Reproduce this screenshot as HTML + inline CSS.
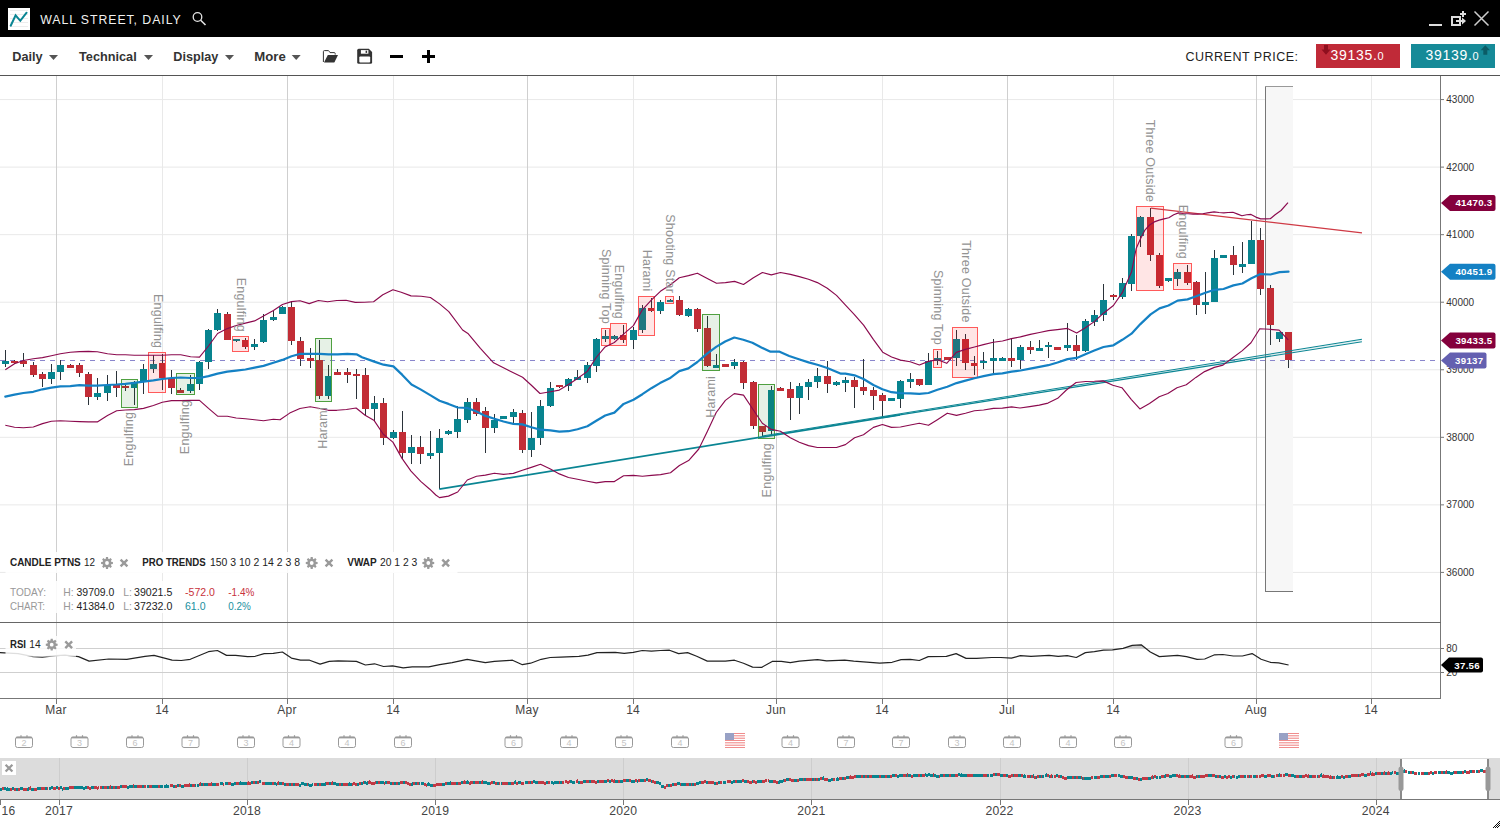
<!DOCTYPE html>
<html><head><meta charset="utf-8"><title>Wall Street Daily</title>
<style>html,body{margin:0;padding:0;background:#fff}body{width:1500px;height:828px;overflow:hidden;position:relative;font-family:"Liberation Sans",sans-serif}svg{position:absolute;left:0;top:0;display:block}text{font-family:"Liberation Sans",sans-serif}</style></head><body>
<svg width="1500" height="828" viewBox="0 0 1500 828">
<rect width="1500" height="828" fill="#fff"/>
<g shape-rendering="crispEdges">
<rect x="0" y="571.91" width="1440" height="1" fill="#e9e9e9" shape-rendering="auto"/>
<rect x="0" y="504.36" width="1440" height="1" fill="#e9e9e9" shape-rendering="auto"/>
<rect x="0" y="436.81" width="1440" height="1" fill="#e9e9e9" shape-rendering="auto"/>
<rect x="0" y="369.26" width="1440" height="1" fill="#e9e9e9" shape-rendering="auto"/>
<rect x="0" y="301.71" width="1440" height="1" fill="#e9e9e9" shape-rendering="auto"/>
<rect x="0" y="234.16" width="1440" height="1" fill="#e9e9e9" shape-rendering="auto"/>
<rect x="0" y="166.61" width="1440" height="1" fill="#e9e9e9" shape-rendering="auto"/>
<rect x="0" y="99.06" width="1440" height="1" fill="#e9e9e9" shape-rendering="auto"/>
<rect x="56" y="76" width="1" height="622" fill="#cfcfcf"/>
<rect x="162" y="76" width="1" height="622" fill="#e9e9e9"/>
<rect x="287" y="76" width="1" height="622" fill="#cfcfcf"/>
<rect x="393" y="76" width="1" height="622" fill="#e9e9e9"/>
<rect x="527" y="76" width="1" height="622" fill="#cfcfcf"/>
<rect x="633" y="76" width="1" height="622" fill="#e9e9e9"/>
<rect x="776" y="76" width="1" height="622" fill="#cfcfcf"/>
<rect x="882" y="76" width="1" height="622" fill="#e9e9e9"/>
<rect x="1007" y="76" width="1" height="622" fill="#cfcfcf"/>
<rect x="1113" y="76" width="1" height="622" fill="#e9e9e9"/>
<rect x="1256" y="76" width="1" height="622" fill="#cfcfcf"/>
<rect x="1371" y="76" width="1" height="622" fill="#e9e9e9"/>
</g>
<g shape-rendering="crispEdges">
<rect x="1266" y="86" width="27" height="505" fill="#f7f7f7"/>
<rect x="1265" y="86" width="1" height="506" fill="#777"/>
<rect x="1265" y="86" width="28" height="1" fill="#999"/>
<rect x="1265" y="591" width="28" height="1" fill="#777"/>
</g>
<line x1="0" y1="360.5" x2="1440" y2="360.5" stroke="#8a86cc" stroke-width="1" stroke-dasharray="5 5" shape-rendering="crispEdges"/>
<g shape-rendering="crispEdges">
<rect x="5" y="350" width="1" height="17" fill="#2b333a"/>
<rect x="2" y="361" width="7" height="3" fill="#08848f"/>
<rect x="14" y="360" width="1" height="4" fill="#2b333a"/>
<rect x="11" y="361" width="7" height="2" fill="#c22d36"/>
<rect x="23" y="353" width="1" height="14" fill="#2b333a"/>
<rect x="20" y="361" width="7" height="3" fill="#c22d36"/>
<rect x="33" y="362" width="1" height="15" fill="#2b333a"/>
<rect x="30" y="365" width="7" height="10" fill="#c22d36"/>
<rect x="42" y="372" width="1" height="15" fill="#2b333a"/>
<rect x="39" y="374" width="7" height="5" fill="#c22d36"/>
<rect x="51" y="364" width="1" height="20" fill="#2b333a"/>
<rect x="48" y="372" width="7" height="7" fill="#08848f"/>
<rect x="60" y="360" width="1" height="20" fill="#2b333a"/>
<rect x="57" y="365" width="7" height="7" fill="#08848f"/>
<rect x="70" y="364" width="1" height="4" fill="#2b333a"/>
<rect x="67" y="365" width="7" height="3" fill="#c22d36"/>
<rect x="79" y="363" width="1" height="14" fill="#2b333a"/>
<rect x="76" y="365" width="7" height="8" fill="#c22d36"/>
<rect x="88" y="372" width="1" height="33" fill="#2b333a"/>
<rect x="85" y="374" width="7" height="23" fill="#c22d36"/>
<rect x="97" y="378" width="1" height="22" fill="#2b333a"/>
<rect x="94" y="393" width="7" height="4" fill="#08848f"/>
<rect x="107" y="375" width="1" height="26" fill="#2b333a"/>
<rect x="104" y="385" width="7" height="8" fill="#08848f"/>
<rect x="116" y="371" width="1" height="26" fill="#2b333a"/>
<rect x="113" y="385" width="7" height="3" fill="#c22d36"/>
<rect x="125" y="385" width="1" height="6" fill="#2b333a"/>
<rect x="122" y="386" width="7" height="2" fill="#c22d36"/>
<rect x="134" y="381" width="1" height="24" fill="#2b333a"/>
<rect x="131" y="382" width="7" height="6" fill="#08848f"/>
<rect x="143" y="364" width="1" height="30" fill="#2b333a"/>
<rect x="140" y="369" width="7" height="13" fill="#08848f"/>
<rect x="153" y="355" width="1" height="18" fill="#2b333a"/>
<rect x="150" y="364" width="7" height="5" fill="#08848f"/>
<rect x="162" y="354" width="1" height="36" fill="#2b333a"/>
<rect x="159" y="363" width="7" height="15" fill="#c22d36"/>
<rect x="171" y="370" width="1" height="24" fill="#2b333a"/>
<rect x="168" y="378" width="7" height="10" fill="#c22d36"/>
<rect x="180" y="388" width="1" height="5" fill="#2b333a"/>
<rect x="177" y="390" width="7" height="3" fill="#c22d36"/>
<rect x="190" y="375" width="1" height="18" fill="#2b333a"/>
<rect x="187" y="384" width="7" height="7" fill="#08848f"/>
<rect x="199" y="361" width="1" height="29" fill="#2b333a"/>
<rect x="196" y="362" width="7" height="22" fill="#08848f"/>
<rect x="208" y="329" width="1" height="40" fill="#2b333a"/>
<rect x="205" y="330" width="7" height="32" fill="#08848f"/>
<rect x="217" y="309" width="1" height="22" fill="#2b333a"/>
<rect x="214" y="313" width="7" height="17" fill="#08848f"/>
<rect x="227" y="312" width="1" height="28" fill="#2b333a"/>
<rect x="224" y="314" width="7" height="26" fill="#c22d36"/>
<rect x="236" y="339" width="1" height="3" fill="#2b333a"/>
<rect x="233" y="339" width="7" height="2" fill="#08848f"/>
<rect x="245" y="338" width="1" height="11" fill="#2b333a"/>
<rect x="242" y="340" width="7" height="7" fill="#c22d36"/>
<rect x="254" y="339" width="1" height="11" fill="#2b333a"/>
<rect x="251" y="344" width="7" height="3" fill="#08848f"/>
<rect x="263" y="314" width="1" height="29" fill="#2b333a"/>
<rect x="260" y="320" width="7" height="22" fill="#08848f"/>
<rect x="273" y="311" width="1" height="10" fill="#2b333a"/>
<rect x="270" y="317" width="7" height="3" fill="#08848f"/>
<rect x="282" y="306" width="1" height="8" fill="#2b333a"/>
<rect x="279" y="307" width="7" height="7" fill="#08848f"/>
<rect x="291" y="302" width="1" height="43" fill="#2b333a"/>
<rect x="288" y="307" width="7" height="34" fill="#c22d36"/>
<rect x="300" y="337" width="1" height="29" fill="#2b333a"/>
<rect x="297" y="341" width="7" height="18" fill="#c22d36"/>
<rect x="310" y="348" width="1" height="20" fill="#2b333a"/>
<rect x="307" y="358" width="7" height="3" fill="#c22d36"/>
<rect x="319" y="340" width="1" height="59" fill="#2b333a"/>
<rect x="316" y="360" width="7" height="36" fill="#c22d36"/>
<rect x="328" y="365" width="1" height="34" fill="#2b333a"/>
<rect x="325" y="376" width="7" height="20" fill="#08848f"/>
<rect x="337" y="369" width="1" height="6" fill="#2b333a"/>
<rect x="334" y="372" width="7" height="3" fill="#c22d36"/>
<rect x="347" y="368" width="1" height="15" fill="#2b333a"/>
<rect x="344" y="372" width="7" height="3" fill="#c22d36"/>
<rect x="356" y="369" width="1" height="30" fill="#2b333a"/>
<rect x="353" y="374" width="7" height="2" fill="#c22d36"/>
<rect x="365" y="368" width="1" height="47" fill="#2b333a"/>
<rect x="362" y="375" width="7" height="34" fill="#c22d36"/>
<rect x="374" y="396" width="1" height="25" fill="#2b333a"/>
<rect x="371" y="403" width="7" height="6" fill="#08848f"/>
<rect x="383" y="398" width="1" height="47" fill="#2b333a"/>
<rect x="380" y="403" width="7" height="35" fill="#c22d36"/>
<rect x="393" y="430" width="1" height="9" fill="#2b333a"/>
<rect x="390" y="432" width="7" height="6" fill="#08848f"/>
<rect x="402" y="411" width="1" height="48" fill="#2b333a"/>
<rect x="399" y="432" width="7" height="21" fill="#c22d36"/>
<rect x="411" y="435" width="1" height="29" fill="#2b333a"/>
<rect x="408" y="447" width="7" height="6" fill="#08848f"/>
<rect x="420" y="436" width="1" height="28" fill="#2b333a"/>
<rect x="417" y="447" width="7" height="7" fill="#c22d36"/>
<rect x="430" y="431" width="1" height="28" fill="#2b333a"/>
<rect x="427" y="453" width="7" height="3" fill="#08848f"/>
<rect x="439" y="429" width="1" height="60" fill="#2b333a"/>
<rect x="436" y="438" width="7" height="15" fill="#08848f"/>
<rect x="448" y="430" width="1" height="5" fill="#2b333a"/>
<rect x="445" y="431" width="7" height="3" fill="#08848f"/>
<rect x="457" y="406" width="1" height="32" fill="#2b333a"/>
<rect x="454" y="419" width="7" height="13" fill="#08848f"/>
<rect x="467" y="398" width="1" height="25" fill="#2b333a"/>
<rect x="464" y="402" width="7" height="18" fill="#08848f"/>
<rect x="476" y="398" width="1" height="18" fill="#2b333a"/>
<rect x="473" y="402" width="7" height="12" fill="#c22d36"/>
<rect x="485" y="407" width="1" height="46" fill="#2b333a"/>
<rect x="482" y="411" width="7" height="17" fill="#c22d36"/>
<rect x="494" y="414" width="1" height="19" fill="#2b333a"/>
<rect x="491" y="420" width="7" height="8" fill="#08848f"/>
<rect x="503" y="416" width="1" height="3" fill="#2b333a"/>
<rect x="500" y="416" width="7" height="3" fill="#08848f"/>
<rect x="513" y="409" width="1" height="14" fill="#2b333a"/>
<rect x="510" y="412" width="7" height="5" fill="#08848f"/>
<rect x="522" y="410" width="1" height="43" fill="#2b333a"/>
<rect x="519" y="413" width="7" height="37" fill="#c22d36"/>
<rect x="531" y="412" width="1" height="45" fill="#2b333a"/>
<rect x="528" y="438" width="7" height="12" fill="#08848f"/>
<rect x="540" y="400" width="1" height="45" fill="#2b333a"/>
<rect x="537" y="406" width="7" height="32" fill="#08848f"/>
<rect x="550" y="382" width="1" height="25" fill="#2b333a"/>
<rect x="547" y="388" width="7" height="18" fill="#08848f"/>
<rect x="559" y="385" width="1" height="3" fill="#2b333a"/>
<rect x="556" y="385" width="7" height="2" fill="#c22d36"/>
<rect x="568" y="378" width="1" height="13" fill="#2b333a"/>
<rect x="565" y="379" width="7" height="7" fill="#08848f"/>
<rect x="577" y="370" width="1" height="10" fill="#2b333a"/>
<rect x="574" y="377" width="7" height="3" fill="#08848f"/>
<rect x="587" y="362" width="1" height="21" fill="#2b333a"/>
<rect x="584" y="365" width="7" height="13" fill="#08848f"/>
<rect x="596" y="338" width="1" height="34" fill="#2b333a"/>
<rect x="593" y="339" width="7" height="27" fill="#08848f"/>
<rect x="605" y="330" width="1" height="12" fill="#2b333a"/>
<rect x="602" y="336" width="7" height="3" fill="#08848f"/>
<rect x="614" y="335" width="1" height="5" fill="#2b333a"/>
<rect x="611" y="336" width="7" height="3" fill="#08848f"/>
<rect x="623" y="325" width="1" height="18" fill="#2b333a"/>
<rect x="620" y="335" width="7" height="5" fill="#c22d36"/>
<rect x="633" y="327" width="1" height="22" fill="#2b333a"/>
<rect x="630" y="330" width="7" height="10" fill="#08848f"/>
<rect x="642" y="305" width="1" height="28" fill="#2b333a"/>
<rect x="639" y="308" width="7" height="22" fill="#08848f"/>
<rect x="651" y="298" width="1" height="14" fill="#2b333a"/>
<rect x="648" y="308" width="7" height="3" fill="#c22d36"/>
<rect x="660" y="300" width="1" height="14" fill="#2b333a"/>
<rect x="657" y="302" width="7" height="9" fill="#08848f"/>
<rect x="670" y="299" width="1" height="3" fill="#2b333a"/>
<rect x="667" y="300" width="7" height="2" fill="#08848f"/>
<rect x="679" y="296" width="1" height="20" fill="#2b333a"/>
<rect x="676" y="300" width="7" height="15" fill="#c22d36"/>
<rect x="688" y="308" width="1" height="9" fill="#2b333a"/>
<rect x="685" y="309" width="7" height="7" fill="#08848f"/>
<rect x="697" y="308" width="1" height="24" fill="#2b333a"/>
<rect x="694" y="309" width="7" height="20" fill="#c22d36"/>
<rect x="707" y="316" width="1" height="51" fill="#2b333a"/>
<rect x="704" y="328" width="7" height="38" fill="#c22d36"/>
<rect x="716" y="354" width="1" height="14" fill="#2b333a"/>
<rect x="713" y="365" width="7" height="3" fill="#08848f"/>
<rect x="725" y="364" width="1" height="3" fill="#2b333a"/>
<rect x="722" y="364" width="7" height="3" fill="#c22d36"/>
<rect x="734" y="359" width="1" height="10" fill="#2b333a"/>
<rect x="731" y="362" width="7" height="4" fill="#08848f"/>
<rect x="743" y="361" width="1" height="28" fill="#2b333a"/>
<rect x="740" y="362" width="7" height="21" fill="#c22d36"/>
<rect x="753" y="381" width="1" height="48" fill="#2b333a"/>
<rect x="750" y="382" width="7" height="44" fill="#c22d36"/>
<rect x="762" y="426" width="1" height="10" fill="#2b333a"/>
<rect x="759" y="426" width="7" height="6" fill="#c22d36"/>
<rect x="771" y="386" width="1" height="49" fill="#2b333a"/>
<rect x="768" y="390" width="7" height="41" fill="#08848f"/>
<rect x="780" y="387" width="1" height="4" fill="#2b333a"/>
<rect x="777" y="388" width="7" height="3" fill="#c22d36"/>
<rect x="790" y="382" width="1" height="38" fill="#2b333a"/>
<rect x="787" y="389" width="7" height="9" fill="#c22d36"/>
<rect x="799" y="383" width="1" height="31" fill="#2b333a"/>
<rect x="796" y="386" width="7" height="12" fill="#08848f"/>
<rect x="808" y="379" width="1" height="21" fill="#2b333a"/>
<rect x="805" y="382" width="7" height="5" fill="#08848f"/>
<rect x="817" y="368" width="1" height="20" fill="#2b333a"/>
<rect x="814" y="376" width="7" height="6" fill="#08848f"/>
<rect x="827" y="361" width="1" height="32" fill="#2b333a"/>
<rect x="824" y="376" width="7" height="8" fill="#c22d36"/>
<rect x="836" y="381" width="1" height="5" fill="#2b333a"/>
<rect x="833" y="382" width="7" height="3" fill="#08848f"/>
<rect x="845" y="377" width="1" height="15" fill="#2b333a"/>
<rect x="842" y="380" width="7" height="3" fill="#08848f"/>
<rect x="854" y="377" width="1" height="31" fill="#2b333a"/>
<rect x="851" y="380" width="7" height="7" fill="#c22d36"/>
<rect x="863" y="359" width="1" height="36" fill="#2b333a"/>
<rect x="860" y="387" width="7" height="4" fill="#c22d36"/>
<rect x="873" y="387" width="1" height="23" fill="#2b333a"/>
<rect x="870" y="390" width="7" height="6" fill="#c22d36"/>
<rect x="882" y="393" width="1" height="25" fill="#2b333a"/>
<rect x="879" y="395" width="7" height="6" fill="#c22d36"/>
<rect x="891" y="398" width="1" height="3" fill="#2b333a"/>
<rect x="888" y="398" width="7" height="3" fill="#08848f"/>
<rect x="900" y="380" width="1" height="28" fill="#2b333a"/>
<rect x="897" y="381" width="7" height="18" fill="#08848f"/>
<rect x="910" y="373" width="1" height="15" fill="#2b333a"/>
<rect x="907" y="379" width="7" height="3" fill="#08848f"/>
<rect x="919" y="379" width="1" height="7" fill="#2b333a"/>
<rect x="916" y="379" width="7" height="6" fill="#c22d36"/>
<rect x="928" y="353" width="1" height="32" fill="#2b333a"/>
<rect x="925" y="361" width="7" height="24" fill="#08848f"/>
<rect x="937" y="351" width="1" height="14" fill="#2b333a"/>
<rect x="934" y="358" width="7" height="3" fill="#08848f"/>
<rect x="947" y="357" width="1" height="3" fill="#2b333a"/>
<rect x="944" y="357" width="7" height="3" fill="#c22d36"/>
<rect x="956" y="330" width="1" height="36" fill="#2b333a"/>
<rect x="953" y="339" width="7" height="19" fill="#08848f"/>
<rect x="965" y="334" width="1" height="36" fill="#2b333a"/>
<rect x="962" y="339" width="7" height="24" fill="#c22d36"/>
<rect x="974" y="356" width="1" height="19" fill="#2b333a"/>
<rect x="971" y="363" width="7" height="3" fill="#c22d36"/>
<rect x="983" y="352" width="1" height="17" fill="#2b333a"/>
<rect x="980" y="361" width="7" height="2" fill="#08848f"/>
<rect x="993" y="339" width="1" height="35" fill="#2b333a"/>
<rect x="990" y="358" width="7" height="3" fill="#08848f"/>
<rect x="1002" y="357" width="1" height="4" fill="#2b333a"/>
<rect x="999" y="358" width="7" height="3" fill="#08848f"/>
<rect x="1011" y="339" width="1" height="28" fill="#2b333a"/>
<rect x="1008" y="358" width="7" height="3" fill="#c22d36"/>
<rect x="1020" y="345" width="1" height="24" fill="#2b333a"/>
<rect x="1017" y="347" width="7" height="13" fill="#08848f"/>
<rect x="1030" y="341" width="1" height="13" fill="#2b333a"/>
<rect x="1027" y="347" width="7" height="3" fill="#c22d36"/>
<rect x="1039" y="340" width="1" height="11" fill="#2b333a"/>
<rect x="1036" y="348" width="7" height="3" fill="#08848f"/>
<rect x="1048" y="342" width="1" height="16" fill="#2b333a"/>
<rect x="1045" y="345" width="7" height="2" fill="#08848f"/>
<rect x="1057" y="347" width="1" height="3" fill="#2b333a"/>
<rect x="1054" y="347" width="7" height="3" fill="#c22d36"/>
<rect x="1067" y="323" width="1" height="28" fill="#2b333a"/>
<rect x="1064" y="345" width="7" height="3" fill="#08848f"/>
<rect x="1076" y="335" width="1" height="25" fill="#2b333a"/>
<rect x="1073" y="345" width="7" height="6" fill="#c22d36"/>
<rect x="1085" y="319" width="1" height="33" fill="#2b333a"/>
<rect x="1082" y="321" width="7" height="30" fill="#08848f"/>
<rect x="1094" y="310" width="1" height="16" fill="#2b333a"/>
<rect x="1091" y="315" width="7" height="7" fill="#08848f"/>
<rect x="1103" y="284" width="1" height="37" fill="#2b333a"/>
<rect x="1100" y="300" width="7" height="15" fill="#08848f"/>
<rect x="1113" y="294" width="1" height="6" fill="#2b333a"/>
<rect x="1110" y="295" width="7" height="2" fill="#c22d36"/>
<rect x="1122" y="278" width="1" height="21" fill="#2b333a"/>
<rect x="1119" y="283" width="7" height="14" fill="#08848f"/>
<rect x="1131" y="234" width="1" height="57" fill="#2b333a"/>
<rect x="1128" y="236" width="7" height="48" fill="#08848f"/>
<rect x="1140" y="216" width="1" height="31" fill="#2b333a"/>
<rect x="1137" y="217" width="7" height="19" fill="#08848f"/>
<rect x="1150" y="208" width="1" height="53" fill="#2b333a"/>
<rect x="1147" y="217" width="7" height="38" fill="#c22d36"/>
<rect x="1159" y="253" width="1" height="35" fill="#2b333a"/>
<rect x="1156" y="255" width="7" height="31" fill="#c22d36"/>
<rect x="1168" y="278" width="1" height="4" fill="#2b333a"/>
<rect x="1165" y="278" width="7" height="3" fill="#08848f"/>
<rect x="1177" y="269" width="1" height="17" fill="#2b333a"/>
<rect x="1174" y="272" width="7" height="7" fill="#08848f"/>
<rect x="1187" y="265" width="1" height="20" fill="#2b333a"/>
<rect x="1184" y="272" width="7" height="11" fill="#c22d36"/>
<rect x="1196" y="281" width="1" height="34" fill="#2b333a"/>
<rect x="1193" y="282" width="7" height="23" fill="#c22d36"/>
<rect x="1205" y="272" width="1" height="42" fill="#2b333a"/>
<rect x="1202" y="302" width="7" height="3" fill="#08848f"/>
<rect x="1214" y="250" width="1" height="52" fill="#2b333a"/>
<rect x="1211" y="258" width="7" height="44" fill="#08848f"/>
<rect x="1223" y="255" width="1" height="3" fill="#2b333a"/>
<rect x="1220" y="255" width="7" height="3" fill="#08848f"/>
<rect x="1233" y="246" width="1" height="29" fill="#2b333a"/>
<rect x="1230" y="255" width="7" height="10" fill="#c22d36"/>
<rect x="1242" y="242" width="1" height="31" fill="#2b333a"/>
<rect x="1239" y="264" width="7" height="3" fill="#08848f"/>
<rect x="1251" y="221" width="1" height="43" fill="#2b333a"/>
<rect x="1248" y="240" width="7" height="24" fill="#08848f"/>
<rect x="1260" y="228" width="1" height="67" fill="#2b333a"/>
<rect x="1257" y="240" width="7" height="49" fill="#c22d36"/>
<rect x="1270" y="285" width="1" height="60" fill="#2b333a"/>
<rect x="1267" y="288" width="7" height="37" fill="#c22d36"/>
<rect x="1279" y="332" width="1" height="10" fill="#2b333a"/>
<rect x="1276" y="332" width="7" height="7" fill="#08848f"/>
<rect x="1288" y="332" width="1" height="36" fill="#2b333a"/>
<rect x="1285" y="332" width="7" height="28" fill="#c22d36"/>
</g>
<rect x="148.5" y="352.5" width="17.0" height="40.0" fill="rgba(255,0,0,0.10)" stroke="#ff5a5a" stroke-width="1"/>
<rect x="232.5" y="336.5" width="16.0" height="15.0" fill="rgba(255,0,0,0.10)" stroke="#ff5a5a" stroke-width="1"/>
<rect x="601.5" y="328.5" width="8.0" height="17.0" fill="rgba(255,0,0,0.10)" stroke="#ff5a5a" stroke-width="1"/>
<rect x="610.5" y="323.5" width="16.0" height="22.0" fill="rgba(255,0,0,0.10)" stroke="#ff5a5a" stroke-width="1"/>
<rect x="638.5" y="296.5" width="16.0" height="39.0" fill="rgba(255,0,0,0.10)" stroke="#ff5a5a" stroke-width="1"/>
<rect x="665.5" y="296.5" width="8.0" height="7.0" fill="rgba(255,0,0,0.10)" stroke="#ff5a5a" stroke-width="1"/>
<rect x="933.5" y="349.5" width="8.0" height="18.0" fill="rgba(255,0,0,0.10)" stroke="#ff5a5a" stroke-width="1"/>
<rect x="952.5" y="327.5" width="25.0" height="50.0" fill="rgba(255,0,0,0.10)" stroke="#ff5a5a" stroke-width="1"/>
<rect x="1136.5" y="206.5" width="27.0" height="84.0" fill="rgba(255,0,0,0.10)" stroke="#ff5a5a" stroke-width="1"/>
<rect x="1173.5" y="263.5" width="18.0" height="26.0" fill="rgba(255,0,0,0.10)" stroke="#ff5a5a" stroke-width="1"/>
<rect x="121.5" y="379.5" width="16.0" height="28.0" fill="rgba(30,130,30,0.11)" stroke="#4fa040" stroke-width="1"/>
<rect x="176.5" y="373.5" width="18.0" height="21.0" fill="rgba(30,130,30,0.11)" stroke="#4fa040" stroke-width="1"/>
<rect x="315.5" y="338.5" width="16.0" height="63.0" fill="rgba(30,130,30,0.11)" stroke="#4fa040" stroke-width="1"/>
<rect x="702.5" y="314.5" width="17.0" height="56.0" fill="rgba(30,130,30,0.11)" stroke="#4fa040" stroke-width="1"/>
<rect x="758.5" y="384.5" width="16.0" height="54.0" fill="rgba(30,130,30,0.11)" stroke="#4fa040" stroke-width="1"/>
<line x1="439.3" y1="489.1" x2="900" y2="414.8" stroke="#0a8593" stroke-width="1.7"/>
<line x1="900" y1="414.8" x2="1361.9" y2="340.3" stroke="#0a8593" stroke-width="1" opacity="0.12"/>
<line x1="762.3" y1="436.1" x2="1361.9" y2="339.15" stroke="#0a8593" stroke-width="1.05"/>
<line x1="882.4" y1="417.6" x2="1361.9" y2="341.7" stroke="#0a8593" stroke-width="1.15"/>
<line x1="1150.8" y1="208.1" x2="1362" y2="232.9" stroke="#cf3a45" stroke-width="1.4"/>
<path d="M5.3 369.7 L14.5 363.7 L23.4 360.5 L33.3 358.8 L42.5 357.6 L51.4 355.7 L60.4 353.8 L70.3 352.3 L79.5 351.6 L88.4 351.4 L97.3 351.8 L107.5 353.8 L116.7 354.7 L125.4 354.7 L134.3 355.2 L143.5 355.2 L153.4 355.2 L162.3 355.2 L171.5 354.7 L180.7 354.7 L190.6 356.7 L199.5 357.1 L208.5 346.0 L217.6 333.5 L227.3 328.6 L236.2 325.5 L245.4 323.1 L254.6 320.9 L263.5 316.1 L273.4 310.5 L282.4 304.5 L291.5 301.6 L300.0 300.8 L309.2 303.6 L318.4 300.5 L327.6 301.8 L336.8 300.5 L346.0 300.2 L355.2 302.4 L364.4 302.2 L373.6 301.8 L382.8 294.7 L392.9 289.8 L401.2 292.3 L411.0 295.9 L421.2 296.2 L430.4 297.5 L439.6 303.9 L448.8 311.6 L462.6 330.0 L468.3 333.8 L480.4 348.3 L493.6 362.8 L506.9 369.6 L522.6 377.3 L531.1 385.0 L540.0 393.5 L550.4 391.8 L559.3 390.1 L568.5 384.5 L577.5 378.5 L587.3 371.4 L596.2 357.5 L605.1 346.9 L614.3 342.5 L623.5 334.1 L633.4 325.6 L642.3 309.9 L651.3 300.2 L660.4 291.3 L670.1 285.0 L679.3 277.8 L688.5 275.6 L697.4 273.2 L707.3 278.5 L716.5 283.3 L725.4 282.6 L734.6 281.4 L743.5 284.5 L753.4 277.8 L762.4 272.5 L771.3 274.9 L780.5 272.5 L790.4 274.4 L799.3 276.6 L808.5 279.2 L817.4 282.6 L827.3 288.2 L836.5 295.4 L845.5 305.1 L854.4 314.7 L863.6 325.1 L873.5 339.6 L882.7 352.2 L891.6 357.0 L900.5 360.1 L910.2 361.8 L919.4 365.0 L928.3 361.4 L937.6 359.7 L946.7 363.3 L956.3 352.4 L965.3 349.4 L974.5 347.0 L983.4 344.6 L993.3 342.2 L1002.5 341.0 L1011.4 338.6 L1020.4 336.9 L1030.3 334.4 L1039.5 332.5 L1048.4 330.6 L1057.3 329.6 L1067.5 328.4 L1076.7 333.0 L1085.4 327.7 L1094.3 321.6 L1103.5 313.2 L1113.4 305.5 L1122.3 292.7 L1131.5 272.1 L1136.2 248.5 L1140.5 238.8 L1144.7 230.4 L1149.5 225.0 L1154.3 221.9 L1159.2 220.1 L1164.0 218.9 L1168.8 217.7 L1173.7 214.7 L1178.5 212.9 L1183.3 213.5 L1188.2 213.7 L1193.0 214.1 L1197.8 214.1 L1202.7 213.7 L1207.5 212.9 L1214.1 211.9 L1219.0 212.5 L1223.8 212.9 L1228.0 212.5 L1232.9 212.3 L1237.7 214.1 L1241.9 215.7 L1246.7 214.7 L1251.0 214.4 L1255.8 217.1 L1260.6 218.9 L1265.5 218.9 L1270.3 218.7 L1275.1 214.7 L1281.0 210.5 L1288.0 202.7" fill="none" stroke="#8b0a4e" stroke-width="1.15" stroke-linejoin="round"/>
<path d="M5.3 425.3 L14.5 427.2 L23.4 427.7 L33.3 427.0 L42.5 423.6 L51.4 421.2 L60.4 420.7 L70.3 421.2 L79.5 421.6 L88.4 421.9 L97.3 421.9 L107.5 415.6 L116.7 410.8 L125.4 410.0 L134.3 409.6 L143.5 408.4 L153.4 405.5 L162.3 402.3 L171.5 400.6 L180.7 400.6 L190.6 400.4 L199.5 400.4 L208.5 408.4 L217.6 416.1 L227.3 416.3 L236.2 418.0 L245.4 418.7 L254.6 419.7 L263.5 420.7 L273.4 419.2 L280.0 419.8 L289.7 413.1 L299.9 408.5 L310.2 406.7 L319.9 408.5 L328.3 410.3 L336.8 410.3 L346.4 409.5 L356.1 408.0 L365.1 415.3 L374.2 420.6 L383.3 434.3 L392.9 442.1 L402.0 458.4 L411.0 471.1 L420.7 481.4 L429.8 489.2 L435.8 495.0 L439.5 497.6 L448.5 496.1 L457.7 492.0 L467.3 480.0 L476.5 476.3 L485.4 475.1 L494.4 473.2 L503.5 474.4 L513.4 473.4 L522.4 470.3 L531.3 467.4 L540.5 464.3 L550.4 469.1 L559.3 473.9 L568.5 477.5 L577.5 479.2 L587.4 481.2 L596.3 482.9 L605.2 481.6 L614.4 481.6 L623.6 475.8 L633.5 475.4 L642.4 476.3 L651.4 475.4 L660.6 474.6 L670.5 472.7 L679.4 465.5 L688.6 460.6 L698.8 449.0 L707.2 431.8 L716.2 412.5 L725.4 400.4 L734.3 393.6 L743.5 395.1 L753.4 410.0 L762.3 423.3 L771.3 429.4 L780.4 431.3 L790.3 437.8 L799.3 442.2 L808.5 445.6 L817.4 447.5 L827.3 447.5 L836.5 447.5 L845.4 444.6 L854.6 437.8 L863.5 434.7 L873.4 427.4 L882.4 424.5 L891.5 427.4 L900.5 427.0 L910.4 425.0 L919.3 423.3 L928.5 425.3 L937.4 419.7 L947.3 413.2 L956.5 415.4 L965.5 413.2 L974.4 410.8 L983.6 410.0 L993.5 408.4 L1002.4 408.1 L1011.6 406.9 L1020.0 408.0 L1029.7 406.6 L1039.3 405.1 L1048.0 403.1 L1057.7 398.3 L1066.4 390.0 L1076.1 382.5 L1085.7 381.5 L1094.4 381.3 L1103.1 380.9 L1112.8 385.2 L1121.9 387.7 L1131.2 399.3 L1139.9 408.9 L1149.5 403.5 L1159.2 396.8 L1167.9 393.5 L1177.0 387.7 L1186.3 384.8 L1195.9 377.4 L1204.6 371.6 L1214.3 367.4 L1223.0 365.1 L1232.7 357.7 L1242.0 350.9 L1251.0 342.8 L1259.8 328.7 L1269.4 329.3 L1279.1 330.1 L1288.2 339.9" fill="none" stroke="#8b0a4e" stroke-width="1.15" stroke-linejoin="round"/>
<path d="M5.3 396.6 L14.5 394.7 L23.4 393.0 L33.3 391.8 L42.5 389.3 L51.4 387.7 L60.4 386.4 L70.3 386.2 L79.5 385.2 L88.4 385.7 L97.3 385.7 L107.5 385.0 L116.7 384.5 L125.4 383.8 L134.3 382.8 L143.5 381.6 L153.4 380.4 L162.3 379.0 L171.5 378.0 L180.7 377.5 L190.6 378.0 L199.5 378.0 L208.5 376.1 L217.6 373.6 L227.3 371.7 L236.2 370.7 L245.4 369.5 L254.6 367.6 L263.5 365.9 L273.4 362.8 L282.4 359.9 L291.5 356.2 L300.5 353.8 L310.4 353.8 L319.6 353.8 L328.5 354.3 L337.7 354.3 L347.3 353.8 L356.5 354.3 L362.0 357.2 L374.3 361.6 L383.5 364.7 L393.4 366.4 L402.3 374.9 L411.5 384.5 L420.5 389.4 L430.6 395.4 L439.5 400.7 L448.5 403.9 L457.7 407.5 L467.3 408.0 L476.5 411.6 L485.4 415.9 L494.4 418.8 L503.5 421.5 L513.4 423.9 L522.4 424.4 L531.3 427.3 L540.5 429.7 L550.4 430.4 L559.3 431.6 L568.5 431.2 L577.5 429.2 L587.4 426.3 L596.3 420.8 L605.2 415.5 L614.4 412.6 L623.6 403.9 L633.5 399.8 L642.4 394.2 L651.4 388.2 L660.0 383.1 L669.7 378.3 L679.3 371.1 L688.4 368.4 L697.4 362.0 L707.1 353.6 L716.2 346.9 L725.2 341.5 L734.3 337.5 L743.3 339.7 L752.4 342.7 L761.4 347.5 L770.5 351.7 L779.6 351.7 L789.2 356.0 L798.9 359.3 L808.6 362.4 L818.2 365.0 L827.3 368.0 L841.0 373.7 L845.4 373.6 L854.6 375.3 L863.5 379.0 L873.4 385.0 L882.4 389.3 L891.5 392.2 L900.5 393.2 L910.4 393.4 L919.3 393.9 L928.5 393.0 L937.4 389.8 L947.3 386.7 L956.5 383.1 L965.5 380.6 L974.4 378.2 L983.6 376.1 L993.5 374.1 L1002.4 373.4 L1011.6 371.7 L1020.5 370.5 L1030.2 368.6 L1039.4 366.9 L1048.3 365.2 L1057.5 362.5 L1067.5 359.1 L1076.7 357.9 L1085.4 354.3 L1094.3 350.6 L1103.5 347.0 L1113.4 345.3 L1122.3 339.8 L1131.5 333.7 L1140.4 324.1 L1150.6 314.4 L1159.5 308.4 L1168.5 305.5 L1177.6 300.6 L1187.5 299.4 L1196.2 296.3 L1205.4 292.7 L1214.6 289.8 L1223.5 289.0 L1233.4 285.4 L1242.4 283.5 L1251.5 278.2 L1260.5 274.1 L1270.4 274.5 L1279.6 272.1 L1288.5 271.6" fill="none" stroke="#1481c4" stroke-width="2.2" stroke-linejoin="round" stroke-linecap="round"/>
<text transform="translate(153.5 348.3) rotate(90)" font-size="12.5" fill="#939393" text-anchor="end" letter-spacing="0.25">Engulfing</text>
<text transform="translate(236.8 332.0) rotate(90)" font-size="12.5" fill="#939393" text-anchor="end" letter-spacing="0.25">Engulfing</text>
<text transform="translate(602.1 324.0) rotate(90)" font-size="12.5" fill="#939393" text-anchor="end" letter-spacing="0.25">Spinning Top</text>
<text transform="translate(614.8 319.0) rotate(90)" font-size="12.5" fill="#939393" text-anchor="end" letter-spacing="0.25">Engulfing</text>
<text transform="translate(642.9 291.5) rotate(90)" font-size="12.5" fill="#939393" text-anchor="end" letter-spacing="0.25">Harami</text>
<text transform="translate(665.5 293.2) rotate(90)" font-size="12.5" fill="#939393" text-anchor="end" letter-spacing="0.25">Shooting Star</text>
<text transform="translate(933.8 345.0) rotate(90)" font-size="12.5" fill="#939393" text-anchor="end" letter-spacing="0.25">Spinning Top</text>
<text transform="translate(961.8 322.7) rotate(90)" font-size="12.5" fill="#939393" text-anchor="end" letter-spacing="0.25">Three Outside</text>
<text transform="translate(1146.1 202.2) rotate(90)" font-size="12.5" fill="#939393" text-anchor="end" letter-spacing="0.25">Three Outside</text>
<text transform="translate(1178.9 259.0) rotate(90)" font-size="12.5" fill="#939393" text-anchor="end" letter-spacing="0.25">Engulfing</text>
<text transform="translate(133.2 411.9) rotate(-90)" font-size="12.5" fill="#939393" text-anchor="end" letter-spacing="0.25">Engulfing</text>
<text transform="translate(189.4 399.8) rotate(-90)" font-size="12.5" fill="#939393" text-anchor="end" letter-spacing="0.25">Engulfing</text>
<text transform="translate(326.9 407.0) rotate(-90)" font-size="12.5" fill="#939393" text-anchor="end" letter-spacing="0.25">Harami</text>
<text transform="translate(715.3 375.9) rotate(-90)" font-size="12.5" fill="#939393" text-anchor="end" letter-spacing="0.25">Harami</text>
<text transform="translate(770.9 443.0) rotate(-90)" font-size="12.5" fill="#939393" text-anchor="end" letter-spacing="0.25">Engulfing</text>
<g shape-rendering="crispEdges">
<rect x="1440" y="76" width="1" height="623" fill="#777"/>
<rect x="1441" y="571.91" width="3" height="1" fill="#777" shape-rendering="auto"/>
<rect x="1441" y="504.36" width="3" height="1" fill="#777" shape-rendering="auto"/>
<rect x="1441" y="436.81" width="3" height="1" fill="#777" shape-rendering="auto"/>
<rect x="1441" y="369.26" width="3" height="1" fill="#777" shape-rendering="auto"/>
<rect x="1441" y="301.71" width="3" height="1" fill="#777" shape-rendering="auto"/>
<rect x="1441" y="234.16" width="3" height="1" fill="#777" shape-rendering="auto"/>
<rect x="1441" y="166.61" width="3" height="1" fill="#777" shape-rendering="auto"/>
<rect x="1441" y="99.06" width="3" height="1" fill="#777" shape-rendering="auto"/>
</g>
<text x="1446.3" y="575.8" font-size="10" fill="#333">36000</text>
<text x="1446.3" y="508.3" font-size="10" fill="#333">37000</text>
<text x="1446.3" y="440.7" font-size="10" fill="#333">38000</text>
<text x="1446.3" y="373.2" font-size="10" fill="#333">39000</text>
<text x="1446.3" y="305.6" font-size="10" fill="#333">40000</text>
<text x="1446.3" y="238.1" font-size="10" fill="#333">41000</text>
<text x="1446.3" y="170.5" font-size="10" fill="#333">42000</text>
<text x="1446.3" y="103.0" font-size="10" fill="#333">43000</text>
<path d="M1441 202.9 L1450 194.9 L1493.5 194.9 Q1495.5 194.9 1495.5 196.9 L1495.5 208.9 Q1495.5 210.9 1493.5 210.9 L1450 210.9 Z" fill="#84003c"/>
<text x="1492.5" y="206.4" font-size="9.7" font-weight="bold" fill="#fff" text-anchor="end" letter-spacing="0.3">41470.3</text>
<path d="M1441 271.7 L1450 263.7 L1493.5 263.7 Q1495.5 263.7 1495.5 265.7 L1495.5 277.7 Q1495.5 279.7 1493.5 279.7 L1450 279.7 Z" fill="#1481c4"/>
<text x="1492.5" y="275.2" font-size="9.7" font-weight="bold" fill="#fff" text-anchor="end" letter-spacing="0.3">40451.9</text>
<path d="M1441 340.5 L1450 332.5 L1493.5 332.5 Q1495.5 332.5 1495.5 334.5 L1495.5 346.5 Q1495.5 348.5 1493.5 348.5 L1450 348.5 Z" fill="#84003c"/>
<text x="1492.5" y="344.0" font-size="9.7" font-weight="bold" fill="#fff" text-anchor="end" letter-spacing="0.3">39433.5</text>
<path d="M1441 360.4 L1450 352.4 L1484.5 352.4 Q1486.5 352.4 1486.5 354.4 L1486.5 366.4 Q1486.5 368.4 1484.5 368.4 L1450 368.4 Z" fill="#6460b0"/>
<text x="1483.5" y="363.9" font-size="9.7" font-weight="bold" fill="#fff" text-anchor="end" letter-spacing="0.3">39137</text>
<g shape-rendering="crispEdges">
<rect x="0" y="622" width="1441" height="1" fill="#666"/>
<rect x="0" y="648" width="1440" height="1" fill="#cfcfcf"/>
<rect x="0" y="672" width="1440" height="1" fill="#cfcfcf"/>
<rect x="0" y="698" width="1441" height="1" fill="#777"/>
<rect x="1441" y="648" width="3" height="1" fill="#777"/>
<rect x="1441" y="672" width="3" height="1" fill="#777"/>
</g>
<text x="1446.3" y="651.6" font-size="10" fill="#333">80</text>
<text x="1446.3" y="675.6" font-size="10" fill="#333">20</text>
<path d="M1118.1 648.5 L1123.1 648.4 L1132.2 645.4 L1141.2 644.8 L1145.2 648.5 Z" fill="#ccc"/>
<path d="M0.0 652.6 L18.1 653.6 L33.2 656.6 L42.3 657.2 L55.9 655.7 L64.9 655.1 L78.5 656.6 L89.1 661.1 L108.7 659.0 L126.8 659.3 L145.0 656.3 L154.0 655.4 L172.1 660.2 L181.2 660.5 L190.3 659.3 L208.4 651.7 L217.4 650.5 L226.5 655.4 L235.6 655.4 L247.6 656.6 L255.2 656.3 L264.2 653.6 L273.3 653.3 L282.4 652.0 L291.4 658.1 L300.5 660.2 L309.6 660.2 L320.1 664.1 L329.2 661.4 L338.2 660.8 L356.4 661.4 L365.4 665.0 L374.5 663.8 L383.5 666.5 L392.6 665.9 L403.2 667.8 L412.2 666.8 L428.8 666.8 L439.7 664.6 L452.1 662.6 L467.2 659.3 L485.3 662.6 L494.4 661.4 L512.5 660.2 L522.4 664.7 L530.6 663.2 L541.2 659.3 L550.2 657.5 L560.8 657.2 L578.9 656.3 L588.0 655.1 L597.0 652.6 L615.2 652.3 L624.2 653.3 L633.3 652.3 L642.3 650.5 L651.4 651.1 L660.5 650.5 L669.5 650.2 L678.6 653.6 L687.6 652.6 L696.7 656.3 L707.3 661.1 L725.4 661.1 L734.5 660.2 L743.5 663.2 L752.6 667.1 L761.6 667.4 L772.2 661.4 L781.3 661.4 L790.3 662.6 L799.4 661.1 L817.5 659.6 L826.6 660.8 L844.7 660.2 L853.7 661.1 L879.7 663.1 L892.1 662.3 L901.1 659.6 L910.2 659.3 L919.3 660.5 L928.3 656.6 L946.4 656.3 L956.1 653.6 L966.1 658.4 L976.6 658.4 L991.7 657.5 L1000.8 657.5 L1011.4 658.1 L1020.4 655.7 L1031.0 656.3 L1049.1 655.4 L1058.2 656.3 L1067.2 655.7 L1076.3 657.5 L1085.4 652.6 L1094.4 651.7 L1103.5 650.2 L1112.5 649.9 L1123.1 648.4 L1132.2 645.4 L1141.2 644.8 L1150.3 652.0 L1159.3 656.6 L1177.5 655.4 L1186.5 656.6 L1197.1 659.3 L1204.7 659.0 L1214.6 654.8 L1222.8 654.5 L1233.3 656.0 L1242.4 656.0 L1252.1 653.6 L1261.1 659.3 L1270.2 662.3 L1278.6 662.9 L1288.6 665.0" fill="none" stroke="#222" stroke-width="1.2" stroke-linejoin="round"/>
<path d="M1441 665 L1449 657.5 L1481 657.5 Q1483 657.5 1483 659.5 L1483 670.5 Q1483 672.5 1481 672.5 L1449 672.5 Z" fill="#000"/>
<text x="1480" y="668.5" font-size="9.7" font-weight="bold" fill="#fff" text-anchor="end" letter-spacing="0.3">37.56</text>
<g shape-rendering="crispEdges">
<rect x="56" y="699" width="1" height="5" fill="#777"/>
<rect x="162" y="699" width="1" height="5" fill="#777"/>
<rect x="287" y="699" width="1" height="5" fill="#777"/>
<rect x="393" y="699" width="1" height="5" fill="#777"/>
<rect x="527" y="699" width="1" height="5" fill="#777"/>
<rect x="633" y="699" width="1" height="5" fill="#777"/>
<rect x="776" y="699" width="1" height="5" fill="#777"/>
<rect x="882" y="699" width="1" height="5" fill="#777"/>
<rect x="1007" y="699" width="1" height="5" fill="#777"/>
<rect x="1113" y="699" width="1" height="5" fill="#777"/>
<rect x="1256" y="699" width="1" height="5" fill="#777"/>
<rect x="1371" y="699" width="1" height="5" fill="#777"/>
</g>
<text x="56" y="714" font-size="12" fill="#444" text-anchor="middle" letter-spacing="0.2">Mar</text>
<text x="162" y="714" font-size="12" fill="#444" text-anchor="middle" letter-spacing="0.2">14</text>
<text x="287" y="714" font-size="12" fill="#444" text-anchor="middle" letter-spacing="0.2">Apr</text>
<text x="393" y="714" font-size="12" fill="#444" text-anchor="middle" letter-spacing="0.2">14</text>
<text x="527" y="714" font-size="12" fill="#444" text-anchor="middle" letter-spacing="0.2">May</text>
<text x="633" y="714" font-size="12" fill="#444" text-anchor="middle" letter-spacing="0.2">14</text>
<text x="776" y="714" font-size="12" fill="#444" text-anchor="middle" letter-spacing="0.2">Jun</text>
<text x="882" y="714" font-size="12" fill="#444" text-anchor="middle" letter-spacing="0.2">14</text>
<text x="1007" y="714" font-size="12" fill="#444" text-anchor="middle" letter-spacing="0.2">Jul</text>
<text x="1113" y="714" font-size="12" fill="#444" text-anchor="middle" letter-spacing="0.2">14</text>
<text x="1256" y="714" font-size="12" fill="#444" text-anchor="middle" letter-spacing="0.2">Aug</text>
<text x="1371" y="714" font-size="12" fill="#444" text-anchor="middle" letter-spacing="0.2">14</text>
<g fill="none" stroke="#9a9a9a"><rect x="15.5" y="737.0" width="17" height="10.5" rx="2" stroke-width="1"/><line x1="16.0" y1="737.6" x2="32.0" y2="737.6" stroke-width="1.6"/><line x1="21.0" y1="735.2" x2="21.0" y2="737.5" stroke-width="1.2"/><line x1="27.0" y1="735.2" x2="27.0" y2="737.5" stroke-width="1.2"/></g>
<text x="24.0" y="746" font-size="9" fill="#c4c4c4" text-anchor="middle">2</text>
<g fill="none" stroke="#9a9a9a"><rect x="71.0" y="737.0" width="17" height="10.5" rx="2" stroke-width="1"/><line x1="71.5" y1="737.6" x2="87.5" y2="737.6" stroke-width="1.6"/><line x1="76.5" y1="735.2" x2="76.5" y2="737.5" stroke-width="1.2"/><line x1="82.5" y1="735.2" x2="82.5" y2="737.5" stroke-width="1.2"/></g>
<text x="79.5" y="746" font-size="9" fill="#c4c4c4" text-anchor="middle">3</text>
<g fill="none" stroke="#9a9a9a"><rect x="126.5" y="737.0" width="17" height="10.5" rx="2" stroke-width="1"/><line x1="127.0" y1="737.6" x2="143.0" y2="737.6" stroke-width="1.6"/><line x1="132.0" y1="735.2" x2="132.0" y2="737.5" stroke-width="1.2"/><line x1="138.0" y1="735.2" x2="138.0" y2="737.5" stroke-width="1.2"/></g>
<text x="135.0" y="746" font-size="9" fill="#c4c4c4" text-anchor="middle">6</text>
<g fill="none" stroke="#9a9a9a"><rect x="182.0" y="737.0" width="17" height="10.5" rx="2" stroke-width="1"/><line x1="182.5" y1="737.6" x2="198.5" y2="737.6" stroke-width="1.6"/><line x1="187.5" y1="735.2" x2="187.5" y2="737.5" stroke-width="1.2"/><line x1="193.5" y1="735.2" x2="193.5" y2="737.5" stroke-width="1.2"/></g>
<text x="190.5" y="746" font-size="9" fill="#c4c4c4" text-anchor="middle">7</text>
<g fill="none" stroke="#9a9a9a"><rect x="237.5" y="737.0" width="17" height="10.5" rx="2" stroke-width="1"/><line x1="238.0" y1="737.6" x2="254.0" y2="737.6" stroke-width="1.6"/><line x1="243.0" y1="735.2" x2="243.0" y2="737.5" stroke-width="1.2"/><line x1="249.0" y1="735.2" x2="249.0" y2="737.5" stroke-width="1.2"/></g>
<text x="246.0" y="746" font-size="9" fill="#c4c4c4" text-anchor="middle">3</text>
<g fill="none" stroke="#9a9a9a"><rect x="283.0" y="737.0" width="17" height="10.5" rx="2" stroke-width="1"/><line x1="283.5" y1="737.6" x2="299.5" y2="737.6" stroke-width="1.6"/><line x1="288.5" y1="735.2" x2="288.5" y2="737.5" stroke-width="1.2"/><line x1="294.5" y1="735.2" x2="294.5" y2="737.5" stroke-width="1.2"/></g>
<text x="291.5" y="746" font-size="9" fill="#c4c4c4" text-anchor="middle">4</text>
<g fill="none" stroke="#9a9a9a"><rect x="338.5" y="737.0" width="17" height="10.5" rx="2" stroke-width="1"/><line x1="339.0" y1="737.6" x2="355.0" y2="737.6" stroke-width="1.6"/><line x1="344.0" y1="735.2" x2="344.0" y2="737.5" stroke-width="1.2"/><line x1="350.0" y1="735.2" x2="350.0" y2="737.5" stroke-width="1.2"/></g>
<text x="347.0" y="746" font-size="9" fill="#c4c4c4" text-anchor="middle">4</text>
<g fill="none" stroke="#9a9a9a"><rect x="394.5" y="737.0" width="17" height="10.5" rx="2" stroke-width="1"/><line x1="395.0" y1="737.6" x2="411.0" y2="737.6" stroke-width="1.6"/><line x1="400.0" y1="735.2" x2="400.0" y2="737.5" stroke-width="1.2"/><line x1="406.0" y1="735.2" x2="406.0" y2="737.5" stroke-width="1.2"/></g>
<text x="403.0" y="746" font-size="9" fill="#c4c4c4" text-anchor="middle">6</text>
<g fill="none" stroke="#9a9a9a"><rect x="505.0" y="737.0" width="17" height="10.5" rx="2" stroke-width="1"/><line x1="505.5" y1="737.6" x2="521.5" y2="737.6" stroke-width="1.6"/><line x1="510.5" y1="735.2" x2="510.5" y2="737.5" stroke-width="1.2"/><line x1="516.5" y1="735.2" x2="516.5" y2="737.5" stroke-width="1.2"/></g>
<text x="513.5" y="746" font-size="9" fill="#c4c4c4" text-anchor="middle">6</text>
<g fill="none" stroke="#9a9a9a"><rect x="560.5" y="737.0" width="17" height="10.5" rx="2" stroke-width="1"/><line x1="561.0" y1="737.6" x2="577.0" y2="737.6" stroke-width="1.6"/><line x1="566.0" y1="735.2" x2="566.0" y2="737.5" stroke-width="1.2"/><line x1="572.0" y1="735.2" x2="572.0" y2="737.5" stroke-width="1.2"/></g>
<text x="569.0" y="746" font-size="9" fill="#c4c4c4" text-anchor="middle">4</text>
<g fill="none" stroke="#9a9a9a"><rect x="615.5" y="737.0" width="17" height="10.5" rx="2" stroke-width="1"/><line x1="616.0" y1="737.6" x2="632.0" y2="737.6" stroke-width="1.6"/><line x1="621.0" y1="735.2" x2="621.0" y2="737.5" stroke-width="1.2"/><line x1="627.0" y1="735.2" x2="627.0" y2="737.5" stroke-width="1.2"/></g>
<text x="624.0" y="746" font-size="9" fill="#c4c4c4" text-anchor="middle">5</text>
<g fill="none" stroke="#9a9a9a"><rect x="671.5" y="737.0" width="17" height="10.5" rx="2" stroke-width="1"/><line x1="672.0" y1="737.6" x2="688.0" y2="737.6" stroke-width="1.6"/><line x1="677.0" y1="735.2" x2="677.0" y2="737.5" stroke-width="1.2"/><line x1="683.0" y1="735.2" x2="683.0" y2="737.5" stroke-width="1.2"/></g>
<text x="680.0" y="746" font-size="9" fill="#c4c4c4" text-anchor="middle">4</text>
<g shape-rendering="crispEdges">
<rect x="725" y="733" width="20" height="1" fill="#f08c8c"/>
<rect x="725" y="735" width="20" height="1" fill="#f4a6a6"/>
<rect x="725" y="736" width="20" height="1" fill="#fad8d8"/>
<rect x="725" y="737" width="20" height="1" fill="#fad8d8"/>
<rect x="725" y="738" width="20" height="1" fill="#f4a6a6"/>
<rect x="725" y="740" width="20" height="1" fill="#f08c8c"/>
<rect x="725" y="742" width="20" height="1" fill="#f4a6a6"/>
<rect x="725" y="743" width="20" height="1" fill="#fad8d8"/>
<rect x="725" y="744" width="20" height="1" fill="#fad8d8"/>
<rect x="725" y="745" width="20" height="1" fill="#f4a6a6"/>
<rect x="725" y="747" width="20" height="1" fill="#f08c8c"/>
<rect x="725" y="733" width="9" height="7" fill="#98a1c5"/>
</g>
<g fill="none" stroke="#9a9a9a"><rect x="782.0" y="737.0" width="17" height="10.5" rx="2" stroke-width="1"/><line x1="782.5" y1="737.6" x2="798.5" y2="737.6" stroke-width="1.6"/><line x1="787.5" y1="735.2" x2="787.5" y2="737.5" stroke-width="1.2"/><line x1="793.5" y1="735.2" x2="793.5" y2="737.5" stroke-width="1.2"/></g>
<text x="790.5" y="746" font-size="9" fill="#c4c4c4" text-anchor="middle">4</text>
<g fill="none" stroke="#9a9a9a"><rect x="837.5" y="737.0" width="17" height="10.5" rx="2" stroke-width="1"/><line x1="838.0" y1="737.6" x2="854.0" y2="737.6" stroke-width="1.6"/><line x1="843.0" y1="735.2" x2="843.0" y2="737.5" stroke-width="1.2"/><line x1="849.0" y1="735.2" x2="849.0" y2="737.5" stroke-width="1.2"/></g>
<text x="846.0" y="746" font-size="9" fill="#c4c4c4" text-anchor="middle">7</text>
<g fill="none" stroke="#9a9a9a"><rect x="892.5" y="737.0" width="17" height="10.5" rx="2" stroke-width="1"/><line x1="893.0" y1="737.6" x2="909.0" y2="737.6" stroke-width="1.6"/><line x1="898.0" y1="735.2" x2="898.0" y2="737.5" stroke-width="1.2"/><line x1="904.0" y1="735.2" x2="904.0" y2="737.5" stroke-width="1.2"/></g>
<text x="901.0" y="746" font-size="9" fill="#c4c4c4" text-anchor="middle">7</text>
<g fill="none" stroke="#9a9a9a"><rect x="948.5" y="737.0" width="17" height="10.5" rx="2" stroke-width="1"/><line x1="949.0" y1="737.6" x2="965.0" y2="737.6" stroke-width="1.6"/><line x1="954.0" y1="735.2" x2="954.0" y2="737.5" stroke-width="1.2"/><line x1="960.0" y1="735.2" x2="960.0" y2="737.5" stroke-width="1.2"/></g>
<text x="957.0" y="746" font-size="9" fill="#c4c4c4" text-anchor="middle">3</text>
<g fill="none" stroke="#9a9a9a"><rect x="1003.5" y="737.0" width="17" height="10.5" rx="2" stroke-width="1"/><line x1="1004.0" y1="737.6" x2="1020.0" y2="737.6" stroke-width="1.6"/><line x1="1009.0" y1="735.2" x2="1009.0" y2="737.5" stroke-width="1.2"/><line x1="1015.0" y1="735.2" x2="1015.0" y2="737.5" stroke-width="1.2"/></g>
<text x="1012.0" y="746" font-size="9" fill="#c4c4c4" text-anchor="middle">4</text>
<g fill="none" stroke="#9a9a9a"><rect x="1059.5" y="737.0" width="17" height="10.5" rx="2" stroke-width="1"/><line x1="1060.0" y1="737.6" x2="1076.0" y2="737.6" stroke-width="1.6"/><line x1="1065.0" y1="735.2" x2="1065.0" y2="737.5" stroke-width="1.2"/><line x1="1071.0" y1="735.2" x2="1071.0" y2="737.5" stroke-width="1.2"/></g>
<text x="1068.0" y="746" font-size="9" fill="#c4c4c4" text-anchor="middle">4</text>
<g fill="none" stroke="#9a9a9a"><rect x="1114.5" y="737.0" width="17" height="10.5" rx="2" stroke-width="1"/><line x1="1115.0" y1="737.6" x2="1131.0" y2="737.6" stroke-width="1.6"/><line x1="1120.0" y1="735.2" x2="1120.0" y2="737.5" stroke-width="1.2"/><line x1="1126.0" y1="735.2" x2="1126.0" y2="737.5" stroke-width="1.2"/></g>
<text x="1123.0" y="746" font-size="9" fill="#c4c4c4" text-anchor="middle">6</text>
<g fill="none" stroke="#9a9a9a"><rect x="1225.0" y="737.0" width="17" height="10.5" rx="2" stroke-width="1"/><line x1="1225.5" y1="737.6" x2="1241.5" y2="737.6" stroke-width="1.6"/><line x1="1230.5" y1="735.2" x2="1230.5" y2="737.5" stroke-width="1.2"/><line x1="1236.5" y1="735.2" x2="1236.5" y2="737.5" stroke-width="1.2"/></g>
<text x="1233.5" y="746" font-size="9" fill="#c4c4c4" text-anchor="middle">6</text>
<g shape-rendering="crispEdges">
<rect x="1279" y="733" width="20" height="1" fill="#f08c8c"/>
<rect x="1279" y="735" width="20" height="1" fill="#f4a6a6"/>
<rect x="1279" y="736" width="20" height="1" fill="#fad8d8"/>
<rect x="1279" y="737" width="20" height="1" fill="#fad8d8"/>
<rect x="1279" y="738" width="20" height="1" fill="#f4a6a6"/>
<rect x="1279" y="740" width="20" height="1" fill="#f08c8c"/>
<rect x="1279" y="742" width="20" height="1" fill="#f4a6a6"/>
<rect x="1279" y="743" width="20" height="1" fill="#fad8d8"/>
<rect x="1279" y="744" width="20" height="1" fill="#fad8d8"/>
<rect x="1279" y="745" width="20" height="1" fill="#f4a6a6"/>
<rect x="1279" y="747" width="20" height="1" fill="#f08c8c"/>
<rect x="1279" y="733" width="9" height="7" fill="#98a1c5"/>
</g>
<g shape-rendering="crispEdges">
<rect x="0" y="758" width="1500" height="41" fill="#dcdcdc"/>
<rect x="59" y="758" width="1" height="41" fill="#cdcdcd"/>
<rect x="247" y="758" width="1" height="41" fill="#cdcdcd"/>
<rect x="435" y="758" width="1" height="41" fill="#cdcdcd"/>
<rect x="623" y="758" width="1" height="41" fill="#cdcdcd"/>
<rect x="811" y="758" width="1" height="41" fill="#cdcdcd"/>
<rect x="1000" y="758" width="1" height="41" fill="#cdcdcd"/>
<rect x="1188" y="758" width="1" height="41" fill="#cdcdcd"/>
<rect x="1376" y="758" width="1" height="41" fill="#cdcdcd"/>
<rect x="1402" y="759" width="85" height="40" fill="#fff"/>
<rect x="0" y="799" width="1500" height="1" fill="#777"/>
<rect x="59" y="800" width="1" height="5" fill="#777"/>
<rect x="247" y="800" width="1" height="5" fill="#777"/>
<rect x="435" y="800" width="1" height="5" fill="#777"/>
<rect x="623" y="800" width="1" height="5" fill="#777"/>
<rect x="811" y="800" width="1" height="5" fill="#777"/>
<rect x="1000" y="800" width="1" height="5" fill="#777"/>
<rect x="1188" y="800" width="1" height="5" fill="#777"/>
<rect x="1376" y="800" width="1" height="5" fill="#777"/>
<rect x="0" y="800" width="1" height="5" fill="#777"/>
</g>
<text x="59.0" y="814.8" font-size="12.2" fill="#444" text-anchor="middle" letter-spacing="0.25">2017</text>
<text x="247.1" y="814.8" font-size="12.2" fill="#444" text-anchor="middle" letter-spacing="0.25">2018</text>
<text x="435.2" y="814.8" font-size="12.2" fill="#444" text-anchor="middle" letter-spacing="0.25">2019</text>
<text x="623.3" y="814.8" font-size="12.2" fill="#444" text-anchor="middle" letter-spacing="0.25">2020</text>
<text x="811.4" y="814.8" font-size="12.2" fill="#444" text-anchor="middle" letter-spacing="0.25">2021</text>
<text x="999.5" y="814.8" font-size="12.2" fill="#444" text-anchor="middle" letter-spacing="0.25">2022</text>
<text x="1187.6" y="814.8" font-size="12.2" fill="#444" text-anchor="middle" letter-spacing="0.25">2023</text>
<text x="1375.7" y="814.8" font-size="12.2" fill="#444" text-anchor="middle" letter-spacing="0.25">2024</text>
<text x="1.6" y="814.8" font-size="12" fill="#444" letter-spacing="0.25">16</text>
<g shape-rendering="crispEdges">
<rect x="0" y="788" width="2" height="3" fill="#08848f"/>
<rect x="2" y="787" width="2" height="3" fill="#c23a45"/>
<rect x="4" y="787" width="1" height="3" fill="#08848f"/>
<rect x="5" y="787" width="1" height="3" fill="#08848f"/>
<rect x="6" y="788" width="2" height="3" fill="#08848f"/>
<rect x="7" y="787" width="1" height="4" fill="#08848f"/>
<rect x="8" y="788" width="2" height="3" fill="#08848f"/>
<rect x="10" y="788" width="2" height="3" fill="#c23a45"/>
<rect x="12" y="787" width="2" height="3" fill="#08848f"/>
<rect x="14" y="788" width="2" height="3" fill="#c23a45"/>
<rect x="16" y="788" width="2" height="3" fill="#08848f"/>
<rect x="18" y="788" width="2" height="3" fill="#c23a45"/>
<rect x="20" y="787" width="3" height="3" fill="#08848f"/>
<rect x="23" y="788" width="3" height="3" fill="#c23a45"/>
<rect x="26" y="788" width="1" height="3" fill="#c23a45"/>
<rect x="27" y="788" width="2" height="3" fill="#08848f"/>
<rect x="28" y="787" width="1" height="4" fill="#08848f"/>
<rect x="29" y="787" width="2" height="3" fill="#c23a45"/>
<rect x="30" y="786" width="1" height="4" fill="#c23a45"/>
<rect x="31" y="788" width="3" height="3" fill="#08848f"/>
<rect x="34" y="788" width="3" height="3" fill="#c23a45"/>
<rect x="37" y="787" width="2" height="3" fill="#08848f"/>
<rect x="39" y="787" width="2" height="3" fill="#08848f"/>
<rect x="41" y="787" width="2" height="3" fill="#c23a45"/>
<rect x="43" y="787" width="2" height="3" fill="#c23a45"/>
<rect x="45" y="787" width="2" height="3" fill="#08848f"/>
<rect x="47" y="787" width="1" height="3" fill="#c23a45"/>
<rect x="49" y="787" width="2" height="3" fill="#08848f"/>
<rect x="51" y="786" width="2" height="3" fill="#08848f"/>
<rect x="53" y="787" width="3" height="3" fill="#c23a45"/>
<rect x="56" y="786" width="2" height="3" fill="#08848f"/>
<rect x="58" y="787" width="2" height="3" fill="#c23a45"/>
<rect x="60" y="786" width="2" height="3" fill="#08848f"/>
<rect x="62" y="788" width="1" height="3" fill="#08848f"/>
<rect x="63" y="787" width="2" height="3" fill="#c23a45"/>
<rect x="65" y="787" width="2" height="3" fill="#08848f"/>
<rect x="67" y="787" width="2" height="3" fill="#08848f"/>
<rect x="69" y="786" width="1" height="3" fill="#c23a45"/>
<rect x="70" y="786" width="1" height="3" fill="#c23a45"/>
<rect x="71" y="786" width="3" height="3" fill="#c23a45"/>
<rect x="74" y="786" width="2" height="3" fill="#08848f"/>
<rect x="76" y="786" width="3" height="3" fill="#08848f"/>
<rect x="79" y="786" width="3" height="3" fill="#08848f"/>
<rect x="82" y="786" width="1" height="3" fill="#08848f"/>
<rect x="83" y="787" width="2" height="3" fill="#08848f"/>
<rect x="85" y="786" width="2" height="3" fill="#08848f"/>
<rect x="87" y="786" width="2" height="3" fill="#c23a45"/>
<rect x="89" y="787" width="2" height="3" fill="#c23a45"/>
<rect x="91" y="786" width="3" height="3" fill="#08848f"/>
<rect x="94" y="786" width="3" height="3" fill="#c23a45"/>
<rect x="97" y="787" width="1" height="3" fill="#c23a45"/>
<rect x="98" y="786" width="1" height="3" fill="#c23a45"/>
<rect x="100" y="786" width="2" height="3" fill="#c23a45"/>
<rect x="102" y="786" width="2" height="3" fill="#08848f"/>
<rect x="104" y="786" width="1" height="3" fill="#c23a45"/>
<rect x="105" y="786" width="2" height="3" fill="#c23a45"/>
<rect x="107" y="786" width="2" height="3" fill="#08848f"/>
<rect x="109" y="786" width="2" height="3" fill="#c23a45"/>
<rect x="110" y="785" width="1" height="4" fill="#c23a45"/>
<rect x="111" y="786" width="2" height="3" fill="#08848f"/>
<rect x="113" y="786" width="2" height="3" fill="#c23a45"/>
<rect x="115" y="786" width="2" height="3" fill="#08848f"/>
<rect x="117" y="786" width="3" height="3" fill="#c23a45"/>
<rect x="120" y="785" width="2" height="3" fill="#08848f"/>
<rect x="122" y="785" width="2" height="3" fill="#c23a45"/>
<rect x="124" y="785" width="3" height="3" fill="#c23a45"/>
<rect x="127" y="786" width="2" height="3" fill="#08848f"/>
<rect x="129" y="785" width="2" height="3" fill="#08848f"/>
<rect x="131" y="785" width="2" height="3" fill="#08848f"/>
<rect x="133" y="785" width="1" height="3" fill="#c23a45"/>
<rect x="133" y="784" width="1" height="4" fill="#c23a45"/>
<rect x="134" y="785" width="1" height="3" fill="#08848f"/>
<rect x="135" y="785" width="2" height="3" fill="#08848f"/>
<rect x="137" y="785" width="2" height="3" fill="#c23a45"/>
<rect x="139" y="785" width="3" height="3" fill="#c23a45"/>
<rect x="142" y="785" width="2" height="3" fill="#08848f"/>
<rect x="144" y="785" width="2" height="3" fill="#c23a45"/>
<rect x="147" y="785" width="2" height="3" fill="#08848f"/>
<rect x="149" y="785" width="3" height="3" fill="#c23a45"/>
<rect x="152" y="785" width="3" height="3" fill="#08848f"/>
<rect x="155" y="785" width="3" height="3" fill="#08848f"/>
<rect x="158" y="785" width="2" height="3" fill="#c23a45"/>
<rect x="160" y="785" width="3" height="3" fill="#08848f"/>
<rect x="164" y="785" width="1" height="3" fill="#08848f"/>
<rect x="165" y="785" width="2" height="3" fill="#08848f"/>
<rect x="166" y="784" width="1" height="4" fill="#08848f"/>
<rect x="167" y="785" width="2" height="3" fill="#08848f"/>
<rect x="170" y="784" width="3" height="3" fill="#c23a45"/>
<rect x="173" y="785" width="2" height="3" fill="#08848f"/>
<rect x="175" y="785" width="2" height="3" fill="#c23a45"/>
<rect x="177" y="784" width="2" height="3" fill="#08848f"/>
<rect x="179" y="784" width="2" height="3" fill="#c23a45"/>
<rect x="181" y="785" width="3" height="3" fill="#08848f"/>
<rect x="184" y="784" width="2" height="3" fill="#c23a45"/>
<rect x="186" y="784" width="3" height="3" fill="#c23a45"/>
<rect x="189" y="784" width="1" height="3" fill="#c23a45"/>
<rect x="189" y="783" width="1" height="4" fill="#c23a45"/>
<rect x="190" y="784" width="2" height="3" fill="#08848f"/>
<rect x="192" y="784" width="3" height="3" fill="#c23a45"/>
<rect x="195" y="784" width="1" height="3" fill="#08848f"/>
<rect x="197" y="784" width="2" height="3" fill="#08848f"/>
<rect x="199" y="783" width="2" height="3" fill="#c23a45"/>
<rect x="200" y="782" width="1" height="4" fill="#c23a45"/>
<rect x="201" y="783" width="2" height="3" fill="#08848f"/>
<rect x="203" y="783" width="1" height="3" fill="#c23a45"/>
<rect x="204" y="783" width="2" height="3" fill="#08848f"/>
<rect x="206" y="783" width="2" height="3" fill="#08848f"/>
<rect x="208" y="783" width="2" height="3" fill="#c23a45"/>
<rect x="210" y="783" width="2" height="3" fill="#c23a45"/>
<rect x="211" y="782" width="1" height="4" fill="#c23a45"/>
<rect x="212" y="783" width="2" height="3" fill="#08848f"/>
<rect x="214" y="783" width="2" height="3" fill="#08848f"/>
<rect x="216" y="783" width="3" height="3" fill="#c23a45"/>
<rect x="220" y="782" width="3" height="3" fill="#08848f"/>
<rect x="223" y="783" width="1" height="3" fill="#c23a45"/>
<rect x="225" y="782" width="3" height="3" fill="#08848f"/>
<rect x="228" y="782" width="3" height="3" fill="#c23a45"/>
<rect x="231" y="783" width="3" height="3" fill="#08848f"/>
<rect x="234" y="782" width="2" height="3" fill="#08848f"/>
<rect x="236" y="782" width="3" height="3" fill="#c23a45"/>
<rect x="239" y="782" width="3" height="3" fill="#08848f"/>
<rect x="240" y="781" width="1" height="4" fill="#08848f"/>
<rect x="242" y="782" width="2" height="3" fill="#08848f"/>
<rect x="244" y="782" width="2" height="3" fill="#08848f"/>
<rect x="246" y="782" width="1" height="3" fill="#08848f"/>
<rect x="247" y="782" width="2" height="3" fill="#c23a45"/>
<rect x="248" y="781" width="1" height="4" fill="#c23a45"/>
<rect x="249" y="782" width="2" height="3" fill="#c23a45"/>
<rect x="251" y="781" width="2" height="3" fill="#08848f"/>
<rect x="253" y="781" width="2" height="3" fill="#c23a45"/>
<rect x="255" y="781" width="2" height="3" fill="#08848f"/>
<rect x="257" y="781" width="2" height="3" fill="#c23a45"/>
<rect x="259" y="780" width="2" height="3" fill="#08848f"/>
<rect x="262" y="782" width="3" height="3" fill="#c23a45"/>
<rect x="265" y="782" width="3" height="3" fill="#08848f"/>
<rect x="268" y="782" width="2" height="3" fill="#08848f"/>
<rect x="270" y="782" width="2" height="3" fill="#08848f"/>
<rect x="272" y="782" width="2" height="3" fill="#c23a45"/>
<rect x="274" y="782" width="2" height="3" fill="#08848f"/>
<rect x="276" y="783" width="1" height="3" fill="#08848f"/>
<rect x="277" y="782" width="2" height="3" fill="#c23a45"/>
<rect x="278" y="781" width="1" height="4" fill="#c23a45"/>
<rect x="279" y="782" width="2" height="3" fill="#08848f"/>
<rect x="281" y="782" width="1" height="3" fill="#08848f"/>
<rect x="282" y="782" width="2" height="3" fill="#c23a45"/>
<rect x="284" y="783" width="2" height="3" fill="#08848f"/>
<rect x="286" y="783" width="1" height="3" fill="#c23a45"/>
<rect x="287" y="783" width="2" height="3" fill="#c23a45"/>
<rect x="289" y="783" width="2" height="3" fill="#08848f"/>
<rect x="291" y="783" width="2" height="3" fill="#c23a45"/>
<rect x="293" y="783" width="2" height="3" fill="#08848f"/>
<rect x="295" y="783" width="1" height="3" fill="#c23a45"/>
<rect x="296" y="783" width="3" height="3" fill="#c23a45"/>
<rect x="299" y="784" width="2" height="3" fill="#08848f"/>
<rect x="301" y="782" width="3" height="3" fill="#08848f"/>
<rect x="304" y="783" width="3" height="3" fill="#08848f"/>
<rect x="307" y="783" width="1" height="3" fill="#c23a45"/>
<rect x="308" y="783" width="1" height="3" fill="#08848f"/>
<rect x="309" y="784" width="3" height="3" fill="#08848f"/>
<rect x="312" y="783" width="1" height="3" fill="#08848f"/>
<rect x="314" y="783" width="3" height="3" fill="#c23a45"/>
<rect x="317" y="783" width="2" height="3" fill="#08848f"/>
<rect x="319" y="783" width="2" height="3" fill="#c23a45"/>
<rect x="321" y="783" width="1" height="3" fill="#08848f"/>
<rect x="322" y="783" width="3" height="3" fill="#08848f"/>
<rect x="325" y="783" width="1" height="3" fill="#08848f"/>
<rect x="325" y="782" width="1" height="4" fill="#08848f"/>
<rect x="326" y="782" width="3" height="3" fill="#c23a45"/>
<rect x="329" y="782" width="2" height="3" fill="#08848f"/>
<rect x="331" y="782" width="2" height="3" fill="#c23a45"/>
<rect x="332" y="781" width="1" height="4" fill="#c23a45"/>
<rect x="333" y="782" width="3" height="3" fill="#08848f"/>
<rect x="336" y="783" width="3" height="3" fill="#08848f"/>
<rect x="339" y="783" width="2" height="3" fill="#c23a45"/>
<rect x="341" y="783" width="2" height="3" fill="#08848f"/>
<rect x="343" y="783" width="2" height="3" fill="#c23a45"/>
<rect x="345" y="783" width="1" height="3" fill="#c23a45"/>
<rect x="346" y="783" width="2" height="3" fill="#c23a45"/>
<rect x="348" y="783" width="2" height="3" fill="#08848f"/>
<rect x="349" y="782" width="1" height="4" fill="#08848f"/>
<rect x="350" y="783" width="2" height="3" fill="#08848f"/>
<rect x="352" y="783" width="1" height="3" fill="#c23a45"/>
<rect x="353" y="782" width="2" height="3" fill="#c23a45"/>
<rect x="355" y="783" width="2" height="3" fill="#c23a45"/>
<rect x="357" y="783" width="2" height="3" fill="#08848f"/>
<rect x="359" y="782" width="2" height="3" fill="#c23a45"/>
<rect x="361" y="782" width="2" height="3" fill="#08848f"/>
<rect x="363" y="781" width="1" height="3" fill="#c23a45"/>
<rect x="364" y="781" width="2" height="3" fill="#08848f"/>
<rect x="366" y="782" width="2" height="3" fill="#08848f"/>
<rect x="367" y="781" width="1" height="4" fill="#08848f"/>
<rect x="368" y="781" width="3" height="3" fill="#c23a45"/>
<rect x="369" y="780" width="1" height="4" fill="#c23a45"/>
<rect x="371" y="782" width="2" height="3" fill="#c23a45"/>
<rect x="373" y="782" width="2" height="3" fill="#c23a45"/>
<rect x="375" y="781" width="1" height="3" fill="#c23a45"/>
<rect x="376" y="781" width="2" height="3" fill="#08848f"/>
<rect x="378" y="781" width="2" height="3" fill="#c23a45"/>
<rect x="380" y="781" width="2" height="3" fill="#08848f"/>
<rect x="382" y="781" width="2" height="3" fill="#08848f"/>
<rect x="384" y="782" width="1" height="3" fill="#c23a45"/>
<rect x="385" y="781" width="2" height="3" fill="#08848f"/>
<rect x="387" y="781" width="3" height="3" fill="#c23a45"/>
<rect x="390" y="782" width="2" height="3" fill="#08848f"/>
<rect x="392" y="782" width="2" height="3" fill="#c23a45"/>
<rect x="394" y="782" width="2" height="3" fill="#08848f"/>
<rect x="396" y="782" width="2" height="3" fill="#c23a45"/>
<rect x="398" y="782" width="1" height="3" fill="#08848f"/>
<rect x="399" y="782" width="1" height="3" fill="#08848f"/>
<rect x="400" y="781" width="3" height="3" fill="#c23a45"/>
<rect x="403" y="781" width="2" height="3" fill="#08848f"/>
<rect x="405" y="781" width="2" height="3" fill="#c23a45"/>
<rect x="407" y="782" width="2" height="3" fill="#c23a45"/>
<rect x="409" y="783" width="2" height="3" fill="#c23a45"/>
<rect x="411" y="783" width="2" height="3" fill="#08848f"/>
<rect x="412" y="782" width="1" height="4" fill="#08848f"/>
<rect x="413" y="782" width="2" height="3" fill="#c23a45"/>
<rect x="415" y="782" width="2" height="3" fill="#08848f"/>
<rect x="417" y="782" width="2" height="3" fill="#c23a45"/>
<rect x="419" y="782" width="1" height="3" fill="#08848f"/>
<rect x="421" y="782" width="3" height="3" fill="#08848f"/>
<rect x="424" y="783" width="2" height="3" fill="#c23a45"/>
<rect x="426" y="784" width="1" height="3" fill="#c23a45"/>
<rect x="427" y="783" width="3" height="3" fill="#08848f"/>
<rect x="428" y="782" width="1" height="4" fill="#08848f"/>
<rect x="430" y="784" width="3" height="3" fill="#08848f"/>
<rect x="433" y="784" width="3" height="3" fill="#c23a45"/>
<rect x="436" y="783" width="2" height="3" fill="#c23a45"/>
<rect x="438" y="783" width="3" height="3" fill="#c23a45"/>
<rect x="441" y="783" width="1" height="3" fill="#c23a45"/>
<rect x="442" y="783" width="3" height="3" fill="#08848f"/>
<rect x="445" y="782" width="2" height="3" fill="#c23a45"/>
<rect x="447" y="782" width="2" height="3" fill="#08848f"/>
<rect x="449" y="782" width="2" height="3" fill="#08848f"/>
<rect x="450" y="781" width="1" height="4" fill="#08848f"/>
<rect x="451" y="782" width="3" height="3" fill="#c23a45"/>
<rect x="454" y="782" width="2" height="3" fill="#c23a45"/>
<rect x="456" y="782" width="2" height="3" fill="#08848f"/>
<rect x="458" y="782" width="1" height="3" fill="#c23a45"/>
<rect x="459" y="782" width="2" height="3" fill="#c23a45"/>
<rect x="461" y="781" width="2" height="3" fill="#08848f"/>
<rect x="463" y="781" width="3" height="3" fill="#c23a45"/>
<rect x="464" y="780" width="1" height="4" fill="#c23a45"/>
<rect x="466" y="781" width="3" height="3" fill="#08848f"/>
<rect x="467" y="780" width="1" height="4" fill="#08848f"/>
<rect x="469" y="782" width="2" height="3" fill="#c23a45"/>
<rect x="470" y="781" width="1" height="4" fill="#c23a45"/>
<rect x="471" y="781" width="2" height="3" fill="#c23a45"/>
<rect x="473" y="781" width="2" height="3" fill="#08848f"/>
<rect x="475" y="781" width="2" height="3" fill="#c23a45"/>
<rect x="477" y="781" width="2" height="3" fill="#c23a45"/>
<rect x="479" y="781" width="2" height="3" fill="#08848f"/>
<rect x="481" y="781" width="2" height="3" fill="#c23a45"/>
<rect x="482" y="780" width="1" height="4" fill="#c23a45"/>
<rect x="483" y="781" width="2" height="3" fill="#08848f"/>
<rect x="485" y="781" width="2" height="3" fill="#08848f"/>
<rect x="487" y="782" width="3" height="3" fill="#08848f"/>
<rect x="490" y="782" width="1" height="3" fill="#c23a45"/>
<rect x="491" y="781" width="2" height="3" fill="#c23a45"/>
<rect x="493" y="781" width="2" height="3" fill="#08848f"/>
<rect x="495" y="782" width="2" height="3" fill="#c23a45"/>
<rect x="497" y="782" width="2" height="3" fill="#08848f"/>
<rect x="499" y="782" width="1" height="3" fill="#c23a45"/>
<rect x="501" y="782" width="1" height="3" fill="#08848f"/>
<rect x="502" y="782" width="2" height="3" fill="#c23a45"/>
<rect x="504" y="782" width="2" height="3" fill="#c23a45"/>
<rect x="506" y="782" width="2" height="3" fill="#c23a45"/>
<rect x="508" y="782" width="3" height="3" fill="#08848f"/>
<rect x="511" y="782" width="1" height="3" fill="#c23a45"/>
<rect x="512" y="782" width="2" height="3" fill="#c23a45"/>
<rect x="514" y="781" width="1" height="3" fill="#08848f"/>
<rect x="515" y="781" width="1" height="3" fill="#08848f"/>
<rect x="515" y="780" width="1" height="4" fill="#08848f"/>
<rect x="516" y="782" width="2" height="3" fill="#c23a45"/>
<rect x="518" y="781" width="3" height="3" fill="#08848f"/>
<rect x="521" y="782" width="3" height="3" fill="#c23a45"/>
<rect x="525" y="781" width="3" height="3" fill="#08848f"/>
<rect x="528" y="781" width="2" height="3" fill="#c23a45"/>
<rect x="530" y="781" width="1" height="3" fill="#08848f"/>
<rect x="531" y="781" width="2" height="3" fill="#c23a45"/>
<rect x="533" y="780" width="2" height="3" fill="#08848f"/>
<rect x="535" y="781" width="3" height="3" fill="#08848f"/>
<rect x="538" y="781" width="2" height="3" fill="#c23a45"/>
<rect x="540" y="781" width="3" height="3" fill="#c23a45"/>
<rect x="543" y="781" width="1" height="3" fill="#c23a45"/>
<rect x="544" y="782" width="2" height="3" fill="#c23a45"/>
<rect x="546" y="781" width="2" height="3" fill="#08848f"/>
<rect x="548" y="781" width="2" height="3" fill="#c23a45"/>
<rect x="551" y="781" width="2" height="3" fill="#08848f"/>
<rect x="553" y="782" width="1" height="3" fill="#08848f"/>
<rect x="554" y="781" width="2" height="3" fill="#08848f"/>
<rect x="556" y="781" width="3" height="3" fill="#08848f"/>
<rect x="559" y="781" width="1" height="3" fill="#c23a45"/>
<rect x="560" y="781" width="2" height="3" fill="#08848f"/>
<rect x="562" y="781" width="2" height="3" fill="#c23a45"/>
<rect x="565" y="780" width="2" height="3" fill="#c23a45"/>
<rect x="567" y="781" width="2" height="3" fill="#c23a45"/>
<rect x="569" y="780" width="1" height="3" fill="#c23a45"/>
<rect x="570" y="780" width="2" height="3" fill="#08848f"/>
<rect x="572" y="781" width="3" height="3" fill="#08848f"/>
<rect x="576" y="780" width="2" height="3" fill="#c23a45"/>
<rect x="577" y="779" width="1" height="4" fill="#c23a45"/>
<rect x="578" y="781" width="2" height="3" fill="#08848f"/>
<rect x="580" y="781" width="3" height="3" fill="#c23a45"/>
<rect x="583" y="780" width="3" height="3" fill="#08848f"/>
<rect x="586" y="780" width="1" height="3" fill="#c23a45"/>
<rect x="587" y="780" width="2" height="3" fill="#c23a45"/>
<rect x="589" y="780" width="2" height="3" fill="#08848f"/>
<rect x="591" y="780" width="2" height="3" fill="#c23a45"/>
<rect x="593" y="780" width="2" height="3" fill="#c23a45"/>
<rect x="595" y="781" width="2" height="3" fill="#c23a45"/>
<rect x="597" y="780" width="2" height="3" fill="#08848f"/>
<rect x="599" y="780" width="2" height="3" fill="#c23a45"/>
<rect x="601" y="780" width="3" height="3" fill="#c23a45"/>
<rect x="604" y="780" width="3" height="3" fill="#08848f"/>
<rect x="607" y="779" width="2" height="3" fill="#c23a45"/>
<rect x="609" y="780" width="2" height="3" fill="#08848f"/>
<rect x="611" y="779" width="2" height="3" fill="#c23a45"/>
<rect x="613" y="780" width="2" height="3" fill="#c23a45"/>
<rect x="614" y="779" width="1" height="4" fill="#c23a45"/>
<rect x="615" y="780" width="3" height="3" fill="#08848f"/>
<rect x="618" y="780" width="2" height="3" fill="#c23a45"/>
<rect x="620" y="780" width="3" height="3" fill="#08848f"/>
<rect x="623" y="779" width="3" height="3" fill="#c23a45"/>
<rect x="626" y="779" width="3" height="3" fill="#08848f"/>
<rect x="629" y="779" width="2" height="3" fill="#c23a45"/>
<rect x="631" y="780" width="2" height="3" fill="#08848f"/>
<rect x="633" y="780" width="2" height="3" fill="#08848f"/>
<rect x="635" y="779" width="2" height="3" fill="#c23a45"/>
<rect x="637" y="780" width="1" height="3" fill="#08848f"/>
<rect x="638" y="779" width="2" height="3" fill="#c23a45"/>
<rect x="640" y="779" width="2" height="3" fill="#08848f"/>
<rect x="642" y="779" width="2" height="3" fill="#08848f"/>
<rect x="644" y="779" width="2" height="3" fill="#c23a45"/>
<rect x="646" y="778" width="2" height="3" fill="#08848f"/>
<rect x="648" y="779" width="3" height="3" fill="#c23a45"/>
<rect x="651" y="780" width="1" height="3" fill="#08848f"/>
<rect x="652" y="780" width="2" height="3" fill="#c23a45"/>
<rect x="654" y="781" width="2" height="3" fill="#c23a45"/>
<rect x="656" y="781" width="3" height="3" fill="#08848f"/>
<rect x="659" y="782" width="2" height="3" fill="#08848f"/>
<rect x="661" y="785" width="3" height="3" fill="#08848f"/>
<rect x="664" y="786" width="2" height="3" fill="#c23a45"/>
<rect x="666" y="784" width="2" height="3" fill="#c23a45"/>
<rect x="668" y="784" width="2" height="3" fill="#08848f"/>
<rect x="670" y="784" width="2" height="3" fill="#c23a45"/>
<rect x="672" y="783" width="2" height="3" fill="#08848f"/>
<rect x="674" y="783" width="3" height="3" fill="#c23a45"/>
<rect x="677" y="782" width="3" height="3" fill="#08848f"/>
<rect x="680" y="783" width="1" height="3" fill="#c23a45"/>
<rect x="681" y="783" width="3" height="3" fill="#08848f"/>
<rect x="684" y="783" width="2" height="3" fill="#08848f"/>
<rect x="686" y="783" width="3" height="3" fill="#c23a45"/>
<rect x="689" y="783" width="2" height="3" fill="#08848f"/>
<rect x="691" y="783" width="1" height="3" fill="#c23a45"/>
<rect x="692" y="783" width="2" height="3" fill="#08848f"/>
<rect x="694" y="783" width="2" height="3" fill="#c23a45"/>
<rect x="696" y="782" width="3" height="3" fill="#08848f"/>
<rect x="699" y="781" width="2" height="3" fill="#08848f"/>
<rect x="701" y="781" width="3" height="3" fill="#c23a45"/>
<rect x="704" y="780" width="2" height="3" fill="#c23a45"/>
<rect x="706" y="781" width="2" height="3" fill="#08848f"/>
<rect x="708" y="781" width="3" height="3" fill="#c23a45"/>
<rect x="711" y="781" width="3" height="3" fill="#c23a45"/>
<rect x="714" y="782" width="2" height="3" fill="#08848f"/>
<rect x="716" y="782" width="2" height="3" fill="#c23a45"/>
<rect x="718" y="781" width="2" height="3" fill="#08848f"/>
<rect x="720" y="781" width="2" height="3" fill="#c23a45"/>
<rect x="723" y="781" width="3" height="3" fill="#08848f"/>
<rect x="727" y="780" width="2" height="3" fill="#c23a45"/>
<rect x="729" y="780" width="2" height="3" fill="#c23a45"/>
<rect x="731" y="781" width="2" height="3" fill="#08848f"/>
<rect x="733" y="780" width="2" height="3" fill="#08848f"/>
<rect x="735" y="780" width="2" height="3" fill="#c23a45"/>
<rect x="737" y="780" width="1" height="3" fill="#08848f"/>
<rect x="738" y="780" width="2" height="3" fill="#08848f"/>
<rect x="740" y="780" width="2" height="3" fill="#08848f"/>
<rect x="742" y="779" width="2" height="3" fill="#c23a45"/>
<rect x="744" y="780" width="3" height="3" fill="#08848f"/>
<rect x="747" y="780" width="2" height="3" fill="#c23a45"/>
<rect x="749" y="781" width="3" height="3" fill="#c23a45"/>
<rect x="752" y="780" width="1" height="3" fill="#08848f"/>
<rect x="753" y="780" width="2" height="3" fill="#c23a45"/>
<rect x="755" y="781" width="2" height="3" fill="#c23a45"/>
<rect x="757" y="780" width="2" height="3" fill="#08848f"/>
<rect x="759" y="780" width="3" height="3" fill="#08848f"/>
<rect x="762" y="780" width="3" height="3" fill="#c23a45"/>
<rect x="765" y="779" width="2" height="3" fill="#c23a45"/>
<rect x="768" y="779" width="1" height="3" fill="#c23a45"/>
<rect x="769" y="780" width="2" height="3" fill="#08848f"/>
<rect x="771" y="780" width="2" height="3" fill="#08848f"/>
<rect x="773" y="780" width="3" height="3" fill="#c23a45"/>
<rect x="776" y="781" width="2" height="3" fill="#c23a45"/>
<rect x="778" y="781" width="2" height="3" fill="#08848f"/>
<rect x="779" y="780" width="1" height="4" fill="#08848f"/>
<rect x="780" y="780" width="3" height="3" fill="#08848f"/>
<rect x="783" y="779" width="1" height="3" fill="#08848f"/>
<rect x="784" y="779" width="2" height="3" fill="#c23a45"/>
<rect x="786" y="778" width="3" height="3" fill="#08848f"/>
<rect x="789" y="778" width="2" height="3" fill="#c23a45"/>
<rect x="791" y="779" width="3" height="3" fill="#c23a45"/>
<rect x="794" y="779" width="3" height="3" fill="#08848f"/>
<rect x="797" y="779" width="2" height="3" fill="#c23a45"/>
<rect x="799" y="778" width="2" height="3" fill="#08848f"/>
<rect x="801" y="778" width="2" height="3" fill="#08848f"/>
<rect x="803" y="778" width="1" height="3" fill="#c23a45"/>
<rect x="804" y="778" width="2" height="3" fill="#08848f"/>
<rect x="806" y="778" width="2" height="3" fill="#c23a45"/>
<rect x="808" y="778" width="2" height="3" fill="#c23a45"/>
<rect x="810" y="778" width="2" height="3" fill="#c23a45"/>
<rect x="812" y="778" width="2" height="3" fill="#08848f"/>
<rect x="814" y="778" width="1" height="3" fill="#c23a45"/>
<rect x="815" y="778" width="1" height="3" fill="#08848f"/>
<rect x="816" y="778" width="2" height="3" fill="#c23a45"/>
<rect x="818" y="778" width="2" height="3" fill="#08848f"/>
<rect x="820" y="777" width="2" height="3" fill="#c23a45"/>
<rect x="822" y="777" width="2" height="3" fill="#08848f"/>
<rect x="823" y="776" width="1" height="4" fill="#08848f"/>
<rect x="824" y="778" width="3" height="3" fill="#c23a45"/>
<rect x="827" y="778" width="1" height="3" fill="#c23a45"/>
<rect x="828" y="779" width="3" height="3" fill="#08848f"/>
<rect x="831" y="778" width="2" height="3" fill="#08848f"/>
<rect x="833" y="778" width="2" height="3" fill="#c23a45"/>
<rect x="836" y="778" width="3" height="3" fill="#08848f"/>
<rect x="837" y="777" width="1" height="4" fill="#08848f"/>
<rect x="839" y="777" width="3" height="3" fill="#c23a45"/>
<rect x="842" y="777" width="2" height="3" fill="#08848f"/>
<rect x="844" y="777" width="2" height="3" fill="#c23a45"/>
<rect x="846" y="776" width="3" height="3" fill="#08848f"/>
<rect x="849" y="776" width="3" height="3" fill="#c23a45"/>
<rect x="850" y="775" width="1" height="4" fill="#c23a45"/>
<rect x="852" y="776" width="2" height="3" fill="#c23a45"/>
<rect x="854" y="775" width="2" height="3" fill="#c23a45"/>
<rect x="856" y="775" width="3" height="3" fill="#08848f"/>
<rect x="859" y="775" width="2" height="3" fill="#08848f"/>
<rect x="861" y="775" width="2" height="3" fill="#c23a45"/>
<rect x="863" y="775" width="2" height="3" fill="#08848f"/>
<rect x="865" y="775" width="2" height="3" fill="#c23a45"/>
<rect x="867" y="775" width="2" height="3" fill="#08848f"/>
<rect x="869" y="775" width="1" height="3" fill="#c23a45"/>
<rect x="870" y="775" width="2" height="3" fill="#c23a45"/>
<rect x="872" y="775" width="2" height="3" fill="#08848f"/>
<rect x="874" y="775" width="2" height="3" fill="#08848f"/>
<rect x="876" y="775" width="3" height="3" fill="#08848f"/>
<rect x="879" y="775" width="2" height="3" fill="#c23a45"/>
<rect x="881" y="775" width="3" height="3" fill="#08848f"/>
<rect x="884" y="775" width="1" height="3" fill="#08848f"/>
<rect x="885" y="775" width="2" height="3" fill="#c23a45"/>
<rect x="887" y="775" width="1" height="3" fill="#08848f"/>
<rect x="888" y="775" width="2" height="3" fill="#08848f"/>
<rect x="890" y="775" width="2" height="3" fill="#c23a45"/>
<rect x="892" y="774" width="3" height="3" fill="#08848f"/>
<rect x="895" y="774" width="2" height="3" fill="#c23a45"/>
<rect x="897" y="775" width="2" height="3" fill="#08848f"/>
<rect x="899" y="774" width="2" height="3" fill="#08848f"/>
<rect x="901" y="774" width="2" height="3" fill="#08848f"/>
<rect x="903" y="774" width="3" height="3" fill="#c23a45"/>
<rect x="906" y="774" width="1" height="3" fill="#08848f"/>
<rect x="907" y="774" width="1" height="3" fill="#c23a45"/>
<rect x="907" y="773" width="1" height="4" fill="#c23a45"/>
<rect x="908" y="774" width="3" height="3" fill="#08848f"/>
<rect x="911" y="775" width="2" height="3" fill="#c23a45"/>
<rect x="913" y="774" width="3" height="3" fill="#08848f"/>
<rect x="916" y="774" width="2" height="3" fill="#08848f"/>
<rect x="918" y="774" width="2" height="3" fill="#c23a45"/>
<rect x="920" y="774" width="2" height="3" fill="#08848f"/>
<rect x="922" y="774" width="3" height="3" fill="#c23a45"/>
<rect x="925" y="773" width="1" height="3" fill="#08848f"/>
<rect x="926" y="774" width="2" height="3" fill="#08848f"/>
<rect x="928" y="773" width="2" height="3" fill="#08848f"/>
<rect x="930" y="774" width="3" height="3" fill="#08848f"/>
<rect x="933" y="774" width="1" height="3" fill="#c23a45"/>
<rect x="933" y="773" width="1" height="4" fill="#c23a45"/>
<rect x="934" y="774" width="2" height="3" fill="#08848f"/>
<rect x="936" y="775" width="3" height="3" fill="#08848f"/>
<rect x="939" y="775" width="1" height="3" fill="#c23a45"/>
<rect x="940" y="774" width="3" height="3" fill="#08848f"/>
<rect x="943" y="774" width="2" height="3" fill="#c23a45"/>
<rect x="945" y="774" width="2" height="3" fill="#08848f"/>
<rect x="947" y="774" width="2" height="3" fill="#08848f"/>
<rect x="949" y="774" width="2" height="3" fill="#c23a45"/>
<rect x="951" y="774" width="2" height="3" fill="#08848f"/>
<rect x="953" y="774" width="2" height="3" fill="#08848f"/>
<rect x="955" y="774" width="3" height="3" fill="#c23a45"/>
<rect x="958" y="773" width="2" height="3" fill="#08848f"/>
<rect x="960" y="774" width="2" height="3" fill="#08848f"/>
<rect x="961" y="773" width="1" height="4" fill="#08848f"/>
<rect x="962" y="774" width="3" height="3" fill="#08848f"/>
<rect x="965" y="774" width="2" height="3" fill="#08848f"/>
<rect x="967" y="774" width="2" height="3" fill="#c23a45"/>
<rect x="969" y="774" width="2" height="3" fill="#c23a45"/>
<rect x="971" y="774" width="2" height="3" fill="#c23a45"/>
<rect x="973" y="774" width="2" height="3" fill="#08848f"/>
<rect x="975" y="774" width="3" height="3" fill="#08848f"/>
<rect x="978" y="774" width="3" height="3" fill="#08848f"/>
<rect x="981" y="774" width="2" height="3" fill="#08848f"/>
<rect x="983" y="774" width="2" height="3" fill="#c23a45"/>
<rect x="985" y="774" width="2" height="3" fill="#c23a45"/>
<rect x="987" y="774" width="2" height="3" fill="#08848f"/>
<rect x="990" y="774" width="3" height="3" fill="#08848f"/>
<rect x="993" y="773" width="2" height="3" fill="#c23a45"/>
<rect x="995" y="773" width="2" height="3" fill="#08848f"/>
<rect x="997" y="773" width="3" height="3" fill="#c23a45"/>
<rect x="1000" y="774" width="1" height="3" fill="#08848f"/>
<rect x="1001" y="774" width="2" height="3" fill="#08848f"/>
<rect x="1003" y="774" width="3" height="3" fill="#c23a45"/>
<rect x="1006" y="774" width="2" height="3" fill="#08848f"/>
<rect x="1008" y="775" width="1" height="3" fill="#c23a45"/>
<rect x="1009" y="775" width="2" height="3" fill="#c23a45"/>
<rect x="1011" y="774" width="2" height="3" fill="#c23a45"/>
<rect x="1013" y="774" width="1" height="3" fill="#08848f"/>
<rect x="1014" y="774" width="2" height="3" fill="#c23a45"/>
<rect x="1016" y="774" width="2" height="3" fill="#c23a45"/>
<rect x="1018" y="774" width="3" height="3" fill="#08848f"/>
<rect x="1021" y="774" width="2" height="3" fill="#c23a45"/>
<rect x="1023" y="775" width="3" height="3" fill="#08848f"/>
<rect x="1024" y="774" width="1" height="4" fill="#08848f"/>
<rect x="1027" y="775" width="3" height="3" fill="#c23a45"/>
<rect x="1030" y="775" width="1" height="3" fill="#08848f"/>
<rect x="1031" y="775" width="2" height="3" fill="#c23a45"/>
<rect x="1033" y="775" width="1" height="3" fill="#08848f"/>
<rect x="1033" y="774" width="1" height="4" fill="#08848f"/>
<rect x="1034" y="776" width="2" height="3" fill="#c23a45"/>
<rect x="1036" y="776" width="1" height="3" fill="#08848f"/>
<rect x="1037" y="775" width="2" height="3" fill="#c23a45"/>
<rect x="1039" y="775" width="2" height="3" fill="#08848f"/>
<rect x="1041" y="775" width="1" height="3" fill="#c23a45"/>
<rect x="1042" y="775" width="2" height="3" fill="#08848f"/>
<rect x="1045" y="774" width="2" height="3" fill="#08848f"/>
<rect x="1046" y="773" width="1" height="4" fill="#08848f"/>
<rect x="1047" y="774" width="2" height="3" fill="#c23a45"/>
<rect x="1049" y="775" width="1" height="3" fill="#08848f"/>
<rect x="1050" y="775" width="2" height="3" fill="#c23a45"/>
<rect x="1051" y="774" width="1" height="4" fill="#c23a45"/>
<rect x="1052" y="775" width="1" height="3" fill="#08848f"/>
<rect x="1054" y="775" width="2" height="3" fill="#c23a45"/>
<rect x="1056" y="774" width="2" height="3" fill="#08848f"/>
<rect x="1058" y="775" width="2" height="3" fill="#c23a45"/>
<rect x="1060" y="775" width="2" height="3" fill="#08848f"/>
<rect x="1062" y="776" width="2" height="3" fill="#c23a45"/>
<rect x="1064" y="777" width="3" height="3" fill="#c23a45"/>
<rect x="1067" y="776" width="2" height="3" fill="#08848f"/>
<rect x="1069" y="776" width="3" height="3" fill="#08848f"/>
<rect x="1072" y="776" width="2" height="3" fill="#c23a45"/>
<rect x="1074" y="776" width="2" height="3" fill="#08848f"/>
<rect x="1076" y="776" width="2" height="3" fill="#c23a45"/>
<rect x="1078" y="776" width="3" height="3" fill="#08848f"/>
<rect x="1081" y="776" width="1" height="3" fill="#c23a45"/>
<rect x="1082" y="777" width="1" height="3" fill="#08848f"/>
<rect x="1083" y="777" width="1" height="3" fill="#c23a45"/>
<rect x="1084" y="777" width="2" height="3" fill="#08848f"/>
<rect x="1086" y="777" width="3" height="3" fill="#08848f"/>
<rect x="1089" y="777" width="2" height="3" fill="#08848f"/>
<rect x="1091" y="776" width="2" height="3" fill="#c23a45"/>
<rect x="1094" y="776" width="3" height="3" fill="#08848f"/>
<rect x="1097" y="776" width="3" height="3" fill="#c23a45"/>
<rect x="1100" y="775" width="3" height="3" fill="#08848f"/>
<rect x="1103" y="775" width="2" height="3" fill="#c23a45"/>
<rect x="1105" y="775" width="2" height="3" fill="#08848f"/>
<rect x="1107" y="775" width="2" height="3" fill="#08848f"/>
<rect x="1109" y="775" width="2" height="3" fill="#c23a45"/>
<rect x="1111" y="774" width="3" height="3" fill="#08848f"/>
<rect x="1114" y="774" width="3" height="3" fill="#c23a45"/>
<rect x="1118" y="774" width="2" height="3" fill="#08848f"/>
<rect x="1120" y="775" width="3" height="3" fill="#08848f"/>
<rect x="1123" y="775" width="2" height="3" fill="#c23a45"/>
<rect x="1125" y="776" width="3" height="3" fill="#c23a45"/>
<rect x="1128" y="776" width="2" height="3" fill="#08848f"/>
<rect x="1130" y="776" width="3" height="3" fill="#08848f"/>
<rect x="1133" y="777" width="3" height="3" fill="#c23a45"/>
<rect x="1136" y="777" width="2" height="3" fill="#08848f"/>
<rect x="1138" y="778" width="2" height="3" fill="#c23a45"/>
<rect x="1140" y="778" width="2" height="3" fill="#08848f"/>
<rect x="1142" y="777" width="3" height="3" fill="#c23a45"/>
<rect x="1145" y="777" width="3" height="3" fill="#c23a45"/>
<rect x="1148" y="777" width="3" height="3" fill="#08848f"/>
<rect x="1151" y="776" width="2" height="3" fill="#c23a45"/>
<rect x="1152" y="775" width="1" height="4" fill="#c23a45"/>
<rect x="1153" y="776" width="1" height="3" fill="#08848f"/>
<rect x="1154" y="775" width="2" height="3" fill="#c23a45"/>
<rect x="1156" y="776" width="2" height="3" fill="#08848f"/>
<rect x="1159" y="776" width="2" height="3" fill="#08848f"/>
<rect x="1161" y="775" width="3" height="3" fill="#c23a45"/>
<rect x="1164" y="775" width="2" height="3" fill="#08848f"/>
<rect x="1165" y="774" width="1" height="4" fill="#08848f"/>
<rect x="1166" y="774" width="3" height="3" fill="#c23a45"/>
<rect x="1169" y="775" width="3" height="3" fill="#08848f"/>
<rect x="1172" y="774" width="2" height="3" fill="#08848f"/>
<rect x="1174" y="774" width="2" height="3" fill="#08848f"/>
<rect x="1176" y="774" width="2" height="3" fill="#c23a45"/>
<rect x="1178" y="775" width="3" height="3" fill="#c23a45"/>
<rect x="1179" y="774" width="1" height="4" fill="#c23a45"/>
<rect x="1181" y="775" width="3" height="3" fill="#08848f"/>
<rect x="1184" y="775" width="2" height="3" fill="#c23a45"/>
<rect x="1186" y="775" width="3" height="3" fill="#08848f"/>
<rect x="1189" y="775" width="2" height="3" fill="#c23a45"/>
<rect x="1191" y="775" width="2" height="3" fill="#c23a45"/>
<rect x="1192" y="774" width="1" height="4" fill="#c23a45"/>
<rect x="1193" y="776" width="3" height="3" fill="#c23a45"/>
<rect x="1196" y="775" width="1" height="3" fill="#08848f"/>
<rect x="1197" y="775" width="1" height="3" fill="#c23a45"/>
<rect x="1198" y="775" width="2" height="3" fill="#08848f"/>
<rect x="1200" y="775" width="2" height="3" fill="#c23a45"/>
<rect x="1202" y="775" width="3" height="3" fill="#c23a45"/>
<rect x="1205" y="774" width="3" height="3" fill="#c23a45"/>
<rect x="1208" y="774" width="2" height="3" fill="#08848f"/>
<rect x="1210" y="774" width="2" height="3" fill="#08848f"/>
<rect x="1212" y="774" width="3" height="3" fill="#c23a45"/>
<rect x="1215" y="775" width="2" height="3" fill="#08848f"/>
<rect x="1217" y="775" width="2" height="3" fill="#c23a45"/>
<rect x="1219" y="775" width="2" height="3" fill="#08848f"/>
<rect x="1221" y="776" width="3" height="3" fill="#c23a45"/>
<rect x="1224" y="775" width="2" height="3" fill="#08848f"/>
<rect x="1226" y="776" width="2" height="3" fill="#c23a45"/>
<rect x="1228" y="775" width="2" height="3" fill="#c23a45"/>
<rect x="1230" y="776" width="2" height="3" fill="#08848f"/>
<rect x="1232" y="775" width="2" height="3" fill="#c23a45"/>
<rect x="1234" y="775" width="1" height="3" fill="#08848f"/>
<rect x="1236" y="776" width="2" height="3" fill="#08848f"/>
<rect x="1238" y="775" width="2" height="3" fill="#08848f"/>
<rect x="1240" y="775" width="2" height="3" fill="#c23a45"/>
<rect x="1242" y="775" width="2" height="3" fill="#c23a45"/>
<rect x="1244" y="775" width="2" height="3" fill="#08848f"/>
<rect x="1247" y="775" width="2" height="3" fill="#c23a45"/>
<rect x="1249" y="775" width="1" height="3" fill="#08848f"/>
<rect x="1250" y="775" width="2" height="3" fill="#c23a45"/>
<rect x="1253" y="775" width="1" height="3" fill="#08848f"/>
<rect x="1254" y="775" width="2" height="3" fill="#08848f"/>
<rect x="1256" y="775" width="2" height="3" fill="#c23a45"/>
<rect x="1259" y="775" width="2" height="3" fill="#c23a45"/>
<rect x="1261" y="774" width="3" height="3" fill="#c23a45"/>
<rect x="1264" y="775" width="3" height="3" fill="#08848f"/>
<rect x="1267" y="774" width="2" height="3" fill="#c23a45"/>
<rect x="1269" y="774" width="2" height="3" fill="#c23a45"/>
<rect x="1271" y="775" width="3" height="3" fill="#08848f"/>
<rect x="1274" y="775" width="1" height="3" fill="#c23a45"/>
<rect x="1276" y="774" width="2" height="3" fill="#c23a45"/>
<rect x="1278" y="774" width="2" height="3" fill="#08848f"/>
<rect x="1279" y="773" width="1" height="4" fill="#08848f"/>
<rect x="1280" y="774" width="2" height="3" fill="#c23a45"/>
<rect x="1283" y="774" width="2" height="3" fill="#c23a45"/>
<rect x="1285" y="773" width="3" height="3" fill="#08848f"/>
<rect x="1288" y="774" width="3" height="3" fill="#c23a45"/>
<rect x="1291" y="774" width="3" height="3" fill="#08848f"/>
<rect x="1294" y="775" width="2" height="3" fill="#08848f"/>
<rect x="1296" y="775" width="3" height="3" fill="#c23a45"/>
<rect x="1299" y="775" width="3" height="3" fill="#08848f"/>
<rect x="1302" y="775" width="3" height="3" fill="#c23a45"/>
<rect x="1305" y="774" width="2" height="3" fill="#c23a45"/>
<rect x="1307" y="775" width="2" height="3" fill="#c23a45"/>
<rect x="1308" y="774" width="1" height="4" fill="#c23a45"/>
<rect x="1309" y="775" width="1" height="3" fill="#08848f"/>
<rect x="1310" y="775" width="2" height="3" fill="#08848f"/>
<rect x="1312" y="775" width="3" height="3" fill="#c23a45"/>
<rect x="1315" y="775" width="1" height="3" fill="#c23a45"/>
<rect x="1317" y="775" width="1" height="3" fill="#08848f"/>
<rect x="1318" y="775" width="2" height="3" fill="#c23a45"/>
<rect x="1320" y="774" width="2" height="3" fill="#08848f"/>
<rect x="1321" y="773" width="1" height="4" fill="#08848f"/>
<rect x="1322" y="775" width="2" height="3" fill="#c23a45"/>
<rect x="1323" y="774" width="1" height="4" fill="#c23a45"/>
<rect x="1324" y="775" width="3" height="3" fill="#c23a45"/>
<rect x="1327" y="775" width="2" height="3" fill="#c23a45"/>
<rect x="1329" y="776" width="3" height="3" fill="#c23a45"/>
<rect x="1330" y="775" width="1" height="4" fill="#c23a45"/>
<rect x="1332" y="776" width="1" height="3" fill="#08848f"/>
<rect x="1333" y="776" width="2" height="3" fill="#c23a45"/>
<rect x="1336" y="776" width="2" height="3" fill="#08848f"/>
<rect x="1337" y="775" width="1" height="4" fill="#08848f"/>
<rect x="1338" y="776" width="3" height="3" fill="#08848f"/>
<rect x="1341" y="775" width="2" height="3" fill="#c23a45"/>
<rect x="1343" y="776" width="2" height="3" fill="#08848f"/>
<rect x="1345" y="775" width="2" height="3" fill="#c23a45"/>
<rect x="1347" y="775" width="1" height="3" fill="#c23a45"/>
<rect x="1348" y="775" width="3" height="3" fill="#08848f"/>
<rect x="1351" y="774" width="2" height="3" fill="#c23a45"/>
<rect x="1353" y="774" width="3" height="3" fill="#c23a45"/>
<rect x="1356" y="774" width="2" height="3" fill="#c23a45"/>
<rect x="1358" y="774" width="1" height="3" fill="#08848f"/>
<rect x="1359" y="774" width="2" height="3" fill="#c23a45"/>
<rect x="1361" y="773" width="3" height="3" fill="#c23a45"/>
<rect x="1364" y="774" width="3" height="3" fill="#08848f"/>
<rect x="1367" y="773" width="3" height="3" fill="#c23a45"/>
<rect x="1370" y="772" width="1" height="3" fill="#08848f"/>
<rect x="1370" y="771" width="1" height="4" fill="#08848f"/>
<rect x="1371" y="773" width="2" height="3" fill="#c23a45"/>
<rect x="1372" y="772" width="1" height="4" fill="#c23a45"/>
<rect x="1373" y="773" width="2" height="3" fill="#c23a45"/>
<rect x="1375" y="772" width="2" height="3" fill="#08848f"/>
<rect x="1377" y="772" width="2" height="3" fill="#c23a45"/>
<rect x="1379" y="772" width="2" height="3" fill="#c23a45"/>
<rect x="1381" y="772" width="2" height="3" fill="#08848f"/>
<rect x="1383" y="772" width="2" height="3" fill="#c23a45"/>
<rect x="1384" y="771" width="1" height="4" fill="#c23a45"/>
<rect x="1385" y="772" width="2" height="3" fill="#08848f"/>
<rect x="1387" y="772" width="3" height="3" fill="#c23a45"/>
<rect x="1388" y="771" width="1" height="4" fill="#c23a45"/>
<rect x="1390" y="772" width="2" height="3" fill="#08848f"/>
<rect x="1392" y="771" width="1" height="3" fill="#08848f"/>
<rect x="1394" y="771" width="2" height="3" fill="#c23a45"/>
<rect x="1396" y="772" width="3" height="3" fill="#08848f"/>
<rect x="1399" y="771" width="3" height="3" fill="#c23a45"/>
<rect x="1403" y="770" width="2" height="3" fill="#08848f"/>
<rect x="1404" y="769" width="1" height="4" fill="#08848f"/>
<rect x="1405" y="770" width="2" height="3" fill="#c23a45"/>
<rect x="1408" y="771" width="2" height="3" fill="#08848f"/>
<rect x="1410" y="771" width="2" height="3" fill="#c23a45"/>
<rect x="1412" y="771" width="2" height="3" fill="#08848f"/>
<rect x="1414" y="772" width="1" height="3" fill="#c23a45"/>
<rect x="1415" y="772" width="2" height="3" fill="#c23a45"/>
<rect x="1418" y="772" width="2" height="3" fill="#08848f"/>
<rect x="1421" y="772" width="3" height="3" fill="#c23a45"/>
<rect x="1424" y="772" width="1" height="3" fill="#08848f"/>
<rect x="1425" y="772" width="3" height="3" fill="#08848f"/>
<rect x="1428" y="772" width="2" height="3" fill="#c23a45"/>
<rect x="1430" y="771" width="2" height="3" fill="#c23a45"/>
<rect x="1432" y="772" width="2" height="3" fill="#08848f"/>
<rect x="1434" y="771" width="3" height="3" fill="#c23a45"/>
<rect x="1438" y="771" width="3" height="3" fill="#08848f"/>
<rect x="1441" y="771" width="2" height="3" fill="#c23a45"/>
<rect x="1443" y="771" width="2" height="3" fill="#08848f"/>
<rect x="1445" y="771" width="2" height="3" fill="#c23a45"/>
<rect x="1446" y="770" width="1" height="4" fill="#c23a45"/>
<rect x="1447" y="771" width="3" height="3" fill="#08848f"/>
<rect x="1450" y="772" width="3" height="3" fill="#08848f"/>
<rect x="1453" y="771" width="1" height="3" fill="#08848f"/>
<rect x="1454" y="771" width="3" height="3" fill="#c23a45"/>
<rect x="1457" y="771" width="2" height="3" fill="#08848f"/>
<rect x="1459" y="771" width="3" height="3" fill="#08848f"/>
<rect x="1462" y="771" width="2" height="3" fill="#c23a45"/>
<rect x="1464" y="770" width="2" height="3" fill="#08848f"/>
<rect x="1466" y="771" width="2" height="3" fill="#c23a45"/>
<rect x="1468" y="771" width="2" height="3" fill="#c23a45"/>
<rect x="1469" y="770" width="1" height="4" fill="#c23a45"/>
<rect x="1470" y="770" width="2" height="3" fill="#08848f"/>
<rect x="1472" y="770" width="3" height="3" fill="#c23a45"/>
<rect x="1476" y="770" width="2" height="3" fill="#08848f"/>
<rect x="1478" y="770" width="2" height="3" fill="#c23a45"/>
<rect x="1480" y="769" width="3" height="3" fill="#08848f"/>
<rect x="1483" y="770" width="3" height="3" fill="#c23a45"/>
<rect x="1486" y="770" width="2" height="3" fill="#08848f"/>
</g>
<g shape-rendering="crispEdges"><rect x="1400" y="759" width="2" height="40" fill="#8a8a8a"/><rect x="1487" y="759" width="2" height="40" fill="#8a8a8a"/></g>
<rect x="1398.5" y="766.5" width="5" height="24.5" rx="2.5" fill="#999"/>
<rect x="1485.5" y="766.5" width="5" height="24.5" rx="2.5" fill="#999"/>
<rect x="2" y="761" width="14" height="14" fill="#fff" shape-rendering="crispEdges"/>
<path d="M5.6 764.7 L12.4 771.5 M12.4 764.7 L5.6 771.5" stroke="#999" stroke-width="2.3" fill="none"/>
<g shape-rendering="crispEdges" fill="#111"><rect x="1493" y="827" width="1" height="1"/><rect x="1494" y="826" width="1" height="1"/><rect x="1495" y="825" width="1" height="1"/><rect x="1496" y="824" width="1" height="1"/><rect x="1497" y="823" width="1" height="1"/><rect x="1498" y="822" width="1" height="1"/><rect x="1499" y="821" width="1" height="1"/><rect x="1495" y="827" width="1" height="1"/><rect x="1496" y="826" width="1" height="1"/><rect x="1497" y="825" width="1" height="1"/><rect x="1498" y="824" width="1" height="1"/><rect x="1499" y="823" width="1" height="1"/><rect x="1497" y="827" width="1" height="1"/><rect x="1498" y="826" width="1" height="1"/><rect x="1499" y="825" width="1" height="1"/></g>
<rect x="5.5" y="552" width="452" height="21" fill="#fff" opacity="0.88"/>
<rect x="5.5" y="581" width="257" height="32" fill="#fff" opacity="0.88"/>
<rect x="5.5" y="636" width="70.5" height="20.6" fill="#fff" opacity="0.85"/>
<text x="10.0" y="565.6" font-size="10.4" fill="#222" font-weight="bold" textLength="70.7" lengthAdjust="spacingAndGlyphs">CANDLE PTNS</text>
<text x="84.0" y="565.6" font-size="10.4" fill="#222" textLength="11.0" lengthAdjust="spacingAndGlyphs">12</text>
<path d="M112.91 561.98 L112.91 564.02 L111.22 564.26 L110.87 565.09 L111.90 566.46 L110.46 567.90 L109.09 566.87 L108.26 567.22 L108.02 568.91 L105.98 568.91 L105.74 567.22 L104.91 566.87 L103.54 567.90 L102.10 566.46 L103.13 565.09 L102.78 564.26 L101.09 564.02 L101.09 561.98 L102.78 561.74 L103.13 560.91 L102.10 559.54 L103.54 558.10 L104.91 559.13 L105.74 558.78 L105.98 557.09 L108.02 557.09 L108.26 558.78 L109.09 559.13 L110.46 558.10 L111.90 559.54 L110.87 560.91 L111.22 561.74Z M105.10 563.00 a1.90 1.90 0 1 0 3.80 0 a1.90 1.90 0 1 0 -3.80 0Z" fill="#9a9a9a" fill-rule="evenodd"/>
<path d="M120.6 559.6 L127.4 566.4 M127.4 559.6 L120.6 566.4" stroke="#9a9a9a" stroke-width="2.4" fill="none"/>
<text x="142.3" y="565.6" font-size="10.4" fill="#222" font-weight="bold" textLength="63.4" lengthAdjust="spacingAndGlyphs">PRO TRENDS</text>
<text x="210.0" y="565.6" font-size="10.4" fill="#222" textLength="90.0" lengthAdjust="spacingAndGlyphs">150 3 10 2 14 2 3 8</text>
<path d="M317.61 561.98 L317.61 564.02 L315.92 564.26 L315.57 565.09 L316.60 566.46 L315.16 567.90 L313.79 566.87 L312.96 567.22 L312.72 568.91 L310.68 568.91 L310.44 567.22 L309.61 566.87 L308.24 567.90 L306.80 566.46 L307.83 565.09 L307.48 564.26 L305.79 564.02 L305.79 561.98 L307.48 561.74 L307.83 560.91 L306.80 559.54 L308.24 558.10 L309.61 559.13 L310.44 558.78 L310.68 557.09 L312.72 557.09 L312.96 558.78 L313.79 559.13 L315.16 558.10 L316.60 559.54 L315.57 560.91 L315.92 561.74Z M309.80 563.00 a1.90 1.90 0 1 0 3.80 0 a1.90 1.90 0 1 0 -3.80 0Z" fill="#9a9a9a" fill-rule="evenodd"/>
<path d="M325.6 559.6 L332.4 566.4 M332.4 559.6 L325.6 566.4" stroke="#9a9a9a" stroke-width="2.4" fill="none"/>
<text x="347.3" y="565.6" font-size="10.4" fill="#222" font-weight="bold" textLength="29.4" lengthAdjust="spacingAndGlyphs">VWAP</text>
<text x="380.0" y="565.6" font-size="10.4" fill="#222" textLength="37.3" lengthAdjust="spacingAndGlyphs">20 1 2 3</text>
<path d="M434.21 561.98 L434.21 564.02 L432.52 564.26 L432.17 565.09 L433.20 566.46 L431.76 567.90 L430.39 566.87 L429.56 567.22 L429.32 568.91 L427.28 568.91 L427.04 567.22 L426.21 566.87 L424.84 567.90 L423.40 566.46 L424.43 565.09 L424.08 564.26 L422.39 564.02 L422.39 561.98 L424.08 561.74 L424.43 560.91 L423.40 559.54 L424.84 558.10 L426.21 559.13 L427.04 558.78 L427.28 557.09 L429.32 557.09 L429.56 558.78 L430.39 559.13 L431.76 558.10 L433.20 559.54 L432.17 560.91 L432.52 561.74Z M426.40 563.00 a1.90 1.90 0 1 0 3.80 0 a1.90 1.90 0 1 0 -3.80 0Z" fill="#9a9a9a" fill-rule="evenodd"/>
<path d="M442.3 559.6 L449.1 566.4 M449.1 559.6 L442.3 566.4" stroke="#9a9a9a" stroke-width="2.4" fill="none"/>
<text x="10.0" y="595.8" font-size="10.4" fill="#999" textLength="36.0" lengthAdjust="spacingAndGlyphs">TODAY:</text>
<text x="10.0" y="609.5" font-size="10.4" fill="#999" textLength="35.0" lengthAdjust="spacingAndGlyphs">CHART:</text>
<text x="63.3" y="595.8" font-size="10.4" fill="#999">H:</text>
<text x="76.5" y="595.8" font-size="10.4" fill="#222" textLength="37.8" lengthAdjust="spacingAndGlyphs">39709.0</text>
<text x="123.3" y="595.8" font-size="10.4" fill="#999">L:</text>
<text x="134.0" y="595.8" font-size="10.4" fill="#222" textLength="38.3" lengthAdjust="spacingAndGlyphs">39021.5</text>
<text x="185.0" y="595.8" font-size="10.4" fill="#c8323c" textLength="30.0" lengthAdjust="spacingAndGlyphs">-572.0</text>
<text x="228.3" y="595.8" font-size="10.4" fill="#c8323c" textLength="26.0" lengthAdjust="spacingAndGlyphs">-1.4%</text>
<text x="63.3" y="609.5" font-size="10.4" fill="#999">H:</text>
<text x="76.5" y="609.5" font-size="10.4" fill="#222" textLength="37.8" lengthAdjust="spacingAndGlyphs">41384.0</text>
<text x="123.3" y="609.5" font-size="10.4" fill="#999">L:</text>
<text x="134.0" y="609.5" font-size="10.4" fill="#222" textLength="38.3" lengthAdjust="spacingAndGlyphs">37232.0</text>
<text x="185.0" y="609.5" font-size="10.4" fill="#1a8fa0" textLength="20.5" lengthAdjust="spacingAndGlyphs">61.0</text>
<text x="228.3" y="609.5" font-size="10.4" fill="#1a8fa0" textLength="22.5" lengthAdjust="spacingAndGlyphs">0.2%</text>
<text x="10.0" y="647.6" font-size="10.4" fill="#222" font-weight="bold" textLength="16.0" lengthAdjust="spacingAndGlyphs">RSI</text>
<text x="29.3" y="647.6" font-size="10.4" fill="#222" textLength="11.4" lengthAdjust="spacingAndGlyphs">14</text>
<path d="M57.61 643.68 L57.61 645.72 L55.92 645.96 L55.57 646.79 L56.60 648.16 L55.16 649.60 L53.79 648.57 L52.96 648.92 L52.72 650.61 L50.68 650.61 L50.44 648.92 L49.61 648.57 L48.24 649.60 L46.80 648.16 L47.83 646.79 L47.48 645.96 L45.79 645.72 L45.79 643.68 L47.48 643.44 L47.83 642.61 L46.80 641.24 L48.24 639.80 L49.61 640.83 L50.44 640.48 L50.68 638.79 L52.72 638.79 L52.96 640.48 L53.79 640.83 L55.16 639.80 L56.60 641.24 L55.57 642.61 L55.92 643.44Z M49.80 644.70 a1.90 1.90 0 1 0 3.80 0 a1.90 1.90 0 1 0 -3.80 0Z" fill="#9a9a9a" fill-rule="evenodd"/>
<path d="M65.3 641.3 L72.1 648.1 M72.1 641.3 L65.3 648.1" stroke="#9a9a9a" stroke-width="2.4" fill="none"/>
<rect x="0" y="0" width="1500" height="37" fill="#000" shape-rendering="crispEdges"/>
<rect x="8" y="8" width="22" height="22" fill="#fff" shape-rendering="crispEdges"/>
<g shape-rendering="crispEdges" fill="#ededed"><rect x="10" y="10" width="18" height="1"/><rect x="10" y="14" width="18" height="1"/><rect x="10" y="18" width="18" height="1"/><rect x="10" y="22" width="18" height="1"/><rect x="10" y="26" width="18" height="1"/></g>
<path d="M10.7 25.7 L15.6 15.4 L20.3 20.8 L26.6 12.7" stroke="#0a8593" stroke-width="2" fill="none" stroke-linecap="round"/>
<text x="40.2" y="23.7" font-size="12.3" fill="#f0f0f0" textLength="140.5" lengthAdjust="spacing">WALL STREET, DAILY</text>
<circle cx="197.5" cy="17" r="4.3" fill="none" stroke="#e4e4e4" stroke-width="1.3"/>
<path d="M200.7 20.3 L205.5 25" stroke="#e4e4e4" stroke-width="1.6" fill="none"/>
<g shape-rendering="crispEdges"><rect x="1429" y="24" width="13" height="2" fill="#ddd"/></g>
<rect x="1452" y="17" width="8" height="8" fill="none" stroke="#ddd" stroke-width="2" shape-rendering="crispEdges"/>
<rect x="1456" y="20" width="7" height="2" fill="#ddd" shape-rendering="crispEdges"/>
<path d="M1462 17.5 L1466 21 L1462 24.5 Z" fill="#ddd"/>
<g shape-rendering="crispEdges"><rect x="1460" y="13" width="6" height="2" fill="#ddd"/><rect x="1462" y="11" width="2" height="6" fill="#ddd"/></g>
<path d="M1474.5 11.5 L1488.5 25.5 M1488.5 11.5 L1474.5 25.5" stroke="#ccc" stroke-width="1.5"/>
<rect x="0" y="75" width="1500" height="1" fill="#555" shape-rendering="crispEdges"/>
<text x="12.3" y="61" font-size="13" font-weight="bold" fill="#333" textLength="30.4" lengthAdjust="spacingAndGlyphs">Daily</text>
<path d="M49.0 55 L58.0 55 L53.5 60 Z" fill="#555"/>
<text x="79.0" y="61" font-size="13" font-weight="bold" fill="#333" textLength="57.7" lengthAdjust="spacingAndGlyphs">Technical</text>
<path d="M144.0 55 L153.0 55 L148.5 60 Z" fill="#555"/>
<text x="173.3" y="61" font-size="13" font-weight="bold" fill="#333" textLength="45.0" lengthAdjust="spacingAndGlyphs">Display</text>
<path d="M225.0 55 L234.0 55 L229.5 60 Z" fill="#555"/>
<text x="254.3" y="61" font-size="13" font-weight="bold" fill="#333" textLength="31.4" lengthAdjust="spacingAndGlyphs">More</text>
<path d="M291.7 55 L300.7 55 L296.2 60 Z" fill="#555"/>
<path d="M323.4 62 L323.4 51.6 Q323.4 50.6 324.4 50.6 L328 50.6 Q328.8 50.6 329.3 51.4 L330 52.6 L334.3 52.6 Q335.2 52.6 335.2 53.6 L335.2 54.6" fill="none" stroke="#333" stroke-width="1"/>
<path d="M327.8 55 L338 55 L334.6 62 Q334.3 62.5 333.6 62.5 L324 62.5 Z" fill="#333"/>
<path d="M358.7 48.7 L368.8 48.7 L372.1 52 L372.1 62.3 Q372.1 63.8 370.6 63.8 L358.7 63.8 Q357.2 63.8 357.2 62.3 L357.2 50.2 Q357.2 48.7 358.7 48.7 Z" fill="#333"/>
<rect x="360.9" y="50.1" width="7.5" height="3.6" fill="#fff"/>
<rect x="365.6" y="50.7" width="1.5" height="2.2" fill="#333"/>
<rect x="359.3" y="56.5" width="10.9" height="5.9" rx="1" fill="#fff"/>
<g shape-rendering="crispEdges"><rect x="390" y="55" width="13" height="3" fill="#000"/>
<rect x="422" y="55" width="13" height="3" fill="#000"/><rect x="427" y="50" width="3" height="13" fill="#000"/></g>
<text x="1185.5" y="61.3" font-size="12.5" fill="#222" textLength="112.5" lengthAdjust="spacing">CURRENT PRICE:</text>
<g shape-rendering="crispEdges"><rect x="1316" y="44" width="84" height="24" fill="#c02a38"/><rect x="1411" y="44" width="84" height="24" fill="#168a98"/></g>
<text x="1330.5" y="59.7" font-size="14" fill="#fff" letter-spacing="0.7">39135.<tspan font-size="11">0</tspan></text>
<text x="1425.5" y="59.7" font-size="14" fill="#fff" letter-spacing="0.7">39139.<tspan font-size="11">0</tspan></text>
<path d="M1324 45 L1328 45 L1328 49.5 L1330.5 49.5 L1326 54.7 L1321.5 49.5 L1324 49.5 Z" fill="#8e0f1e"/>
<path d="M1483.3 54.7 L1487.3 54.7 L1487.3 50.3 L1490 50.3 L1485.3 45.2 L1480.7 50.3 L1483.3 50.3 Z" fill="#0b5c66"/>
</svg></body></html>
